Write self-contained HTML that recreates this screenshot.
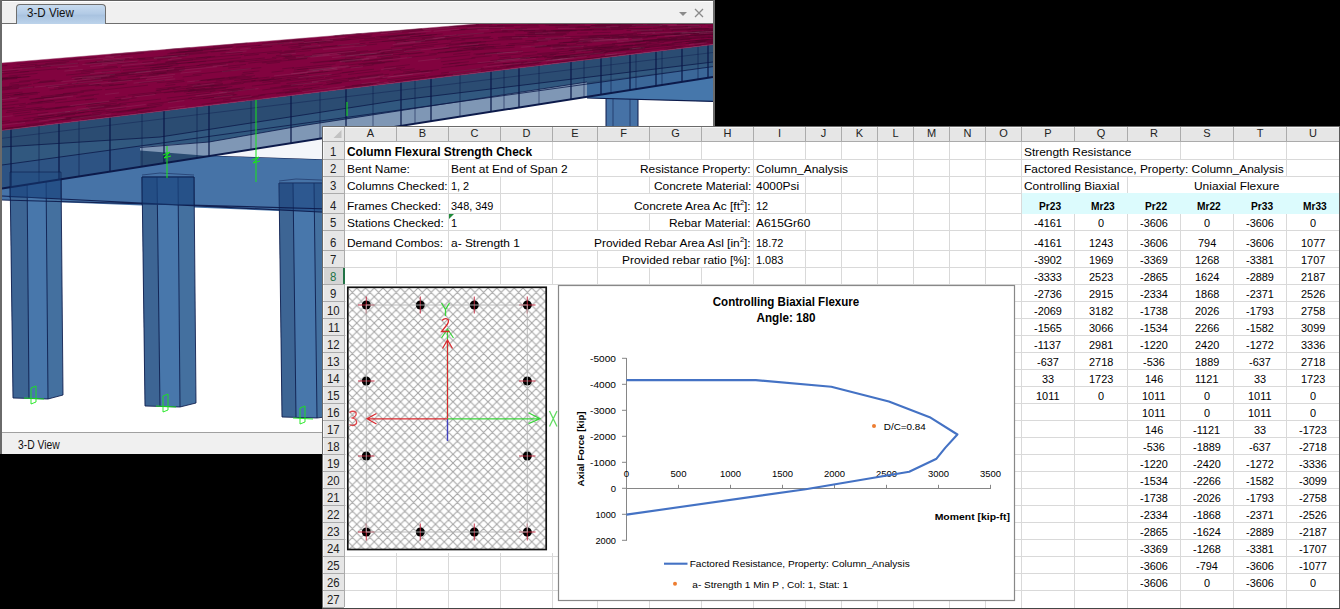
<!DOCTYPE html><html><head><meta charset="utf-8"><style>html,body{margin:0;padding:0;}body{width:1340px;height:609px;overflow:hidden;position:relative;background:#000;}</style></head><body><div style="position:absolute;left:0;top:0;width:715px;height:454px;background:#f0f0f0;"></div><div style="position:absolute;left:0px;top:0px;width:715px;height:1px;background:#5f5f5f;"></div><div style="position:absolute;left:0px;top:0px;width:2px;height:454px;background:#6a6a6a;"></div><div style="position:absolute;left:713px;top:0px;width:2px;height:454px;background:#6a6a6a;"></div><div style="position:absolute;left:2px;top:1px;width:711px;height:1px;background:#ffffff;"></div><div style="position:absolute;left:16px;top:4px;width:88px;height:19px;border:1px solid #6e6e6e;border-bottom:none;border-radius:4px 4px 0 0;background:linear-gradient(#c7dbef,#b3cbe6 45%,#a9c3e0 55%,#bcd3eb);"></div><div style="position:absolute;left:27.00px;top:6.84px;font:normal 12px/12px 'Liberation Sans', sans-serif;color:#111;white-space:pre;transform:scaleX(0.9650);transform-origin:0 0;">3-D View</div><div style="position:absolute;left:2px;top:23px;width:14px;height:1px;background:#6e6e6e;"></div><div style="position:absolute;left:106px;top:23px;width:607px;height:1px;background:#6e6e6e;"></div><svg style="position:absolute;left:676px;top:6px" width="34" height="14"><path d="M3 6 L11 6 L7 10 Z" fill="#8a8a8a"/><path d="M19 3 L27 11 M27 3 L19 11" stroke="#8a8a8a" stroke-width="1.3"/></svg><div style="position:absolute;left:2px;top:24px;width:711px;height:408px;background:#ffffff;"></div><svg style="position:absolute;left:2px;top:24px" width="711" height="408" viewBox="2 24 711 408"><defs><clipPath id="sc"><rect x="2" y="24" width="711" height="408"/></clipPath></defs><g clip-path="url(#sc)"><rect x="2" y="24" width="711" height="408" fill="#fff"/><polygon points="606,82 638,82 638,140 606,140" fill="#4672a6" stroke="#0c1a4a" stroke-width="1"/><path d="M613 82 L613 140 M630 82 L630 140" stroke="#0c1a4a" stroke-width="0.8" opacity="0.7"/><polygon points="2,150 209,155.4 322,159 330,160 330,213 2,200" fill="#4673a7"/><polygon points="10,172 61,172 63,395 48,399 13,398" fill="#44709f"/><polygon points="27,172 46,172 48,399 29,398" fill="#4877ab"/><polygon points="10,172 27,172 29,398 13,398" fill="#3d6594"/><path d="M10 172 L13 398 L48 399 L63 395 L61 172 M27 172 L29 398 M46 172 L48 399 M10 172 L61 172" stroke="#0c1a4a" stroke-width="1" fill="none" opacity="0.85"/><path d="M10 170 L30 168 L61 170" stroke="#0c1a4a" stroke-width="0.8" fill="none" opacity="0.6"/><polygon points="142,177 194,177 196,403 180,407 145,406" fill="#44709f"/><polygon points="157,177 178,177 180,407 160,406" fill="#4877ab"/><polygon points="142,177 157,177 160,406 145,406" fill="#3d6594"/><path d="M142 177 L145 406 L180 407 L196 403 L194 177 M157 177 L160 406 M178 177 L180 407 M142 177 L194 177" stroke="#0c1a4a" stroke-width="1" fill="none" opacity="0.85"/><path d="M142 175 L160 173 L194 175" stroke="#0c1a4a" stroke-width="0.8" fill="none" opacity="0.6"/><polygon points="279,183 345,183 348,414 317,418 282,417" fill="#44709f"/><polygon points="293,183 314,183 317,418 296,417" fill="#4877ab"/><polygon points="279,183 293,183 296,417 282,417" fill="#3d6594"/><path d="M279 183 L282 417 L317 418 L348 414 L345 183 M293 183 L296 417 M314 183 L317 418 M279 183 L345 183" stroke="#0c1a4a" stroke-width="1" fill="none" opacity="0.85"/><path d="M279 181 L296 179 L345 181" stroke="#0c1a4a" stroke-width="0.8" fill="none" opacity="0.6"/><polygon points="10,172 61,172 61,199 10,197" fill="#173f7a" opacity="0.55"/><polygon points="142,177 194,177 194,206 142,204" fill="#173f7a" opacity="0.55"/><polygon points="279,183 322,183 322,212 279,210" fill="#173f7a" opacity="0.55"/><path d="M2 196 L330 212.5 M2 200 L330 209" stroke="#0c1a4a" stroke-width="1.2" fill="none" opacity="0.9"/><path d="M209 155.4 L330 159.5" stroke="#0c1a4a" stroke-width="1.2" fill="none"/><polygon points="209,155.4 330,137 330,159.5" fill="#f4f6fa"/><polygon points="587,96.8 713,77 713,101.4 587,98" fill="#4677ab"/><path d="M587 98 L713 101.4" stroke="#0c1a4a" stroke-width="1.2" fill="none"/><polygon points="2.0,130.3 713.0,44.5 713.0,77.0 2.0,188.5" fill="#2b4c72" /><polygon points="2.0,147.0 160.0,137.0 400.0,100.0 713.0,62.0 713.0,66.6 587.0,82.0 300.0,126.0 209.0,142.0 140.0,146.8 2.0,165.0" fill="#31587f" /><polygon points="140.0,146.8 209.0,142.0 300.0,126.0 587.0,82.0 587.0,96.8 209.0,156.0 140.0,150.5" fill="#7f97b5" /><path d="M140 147.5 L209 142 L300 126 L587 82" stroke="#0c1a4a" stroke-width="1" fill="none" opacity="0.8"/><polygon points="587.0,84.1 713.0,66.6 713.0,77.0 587.0,96.8" fill="#3b6798" /><polygon points="2.0,165.0 140.0,146.0 140.0,166.9 2.0,188.5" fill="#2d5383" /><path d="M2 188.5 L713 77.0" stroke="#0c1a4a" stroke-width="2" fill="none"/><path d="M2 147 L160 137 L400 100 L713 62" stroke="#0c1a4a" stroke-width="1" fill="none" opacity="0.8"/><path d="M2 165.0 L140 146.0 L713 66.6" stroke="#0c1a4a" stroke-width="1" fill="none" opacity="0.8"/><path d="M2 138.3 L713 52.5" stroke="#0c1a4a" stroke-width="0.8" fill="none" opacity="0.5"/><path d="M11 129.2 L11 187.1" stroke="#0c1a4a" stroke-width="1.3" opacity="0.95"/><path d="M39 125.8 L39 182.7" stroke="#0c1a4a" stroke-width="0.9" opacity="0.6"/><path d="M59 123.4 L59 179.6" stroke="#0c1a4a" stroke-width="1.3" opacity="0.95"/><path d="M79 121.0 L79 176.4" stroke="#0c1a4a" stroke-width="0.9" opacity="0.6"/><path d="M110 117.3 L110 171.6" stroke="#0c1a4a" stroke-width="1.3" opacity="0.95"/><path d="M142 113.4 L142 166.5" stroke="#0c1a4a" stroke-width="0.9" opacity="0.6"/><path d="M164 110.8 L164 163.1" stroke="#0c1a4a" stroke-width="1.3" opacity="0.95"/><path d="M197 106.8 L197 157.9" stroke="#0c1a4a" stroke-width="0.9" opacity="0.6"/><path d="M209 105.3 L209 156.0" stroke="#0c1a4a" stroke-width="1.3" opacity="0.95"/><path d="M251 100.3 L251 149.5" stroke="#0c1a4a" stroke-width="0.9" opacity="0.6"/><path d="M291 95.4 L291 143.2" stroke="#0c1a4a" stroke-width="1.3" opacity="0.95"/><path d="M320 91.9 L320 138.6" stroke="#0c1a4a" stroke-width="0.9" opacity="0.6"/><path d="M346 88.8 L346 134.6" stroke="#0c1a4a" stroke-width="1.3" opacity="0.95"/><path d="M373 85.5 L373 130.3" stroke="#0c1a4a" stroke-width="0.9" opacity="0.6"/><path d="M401 82.2 L401 125.9" stroke="#0c1a4a" stroke-width="1.3" opacity="0.95"/><path d="M415 80.5 L415 123.7" stroke="#0c1a4a" stroke-width="0.9" opacity="0.6"/><path d="M431 78.5 L431 121.2" stroke="#0c1a4a" stroke-width="1.3" opacity="0.95"/><path d="M460 75.0 L460 116.7" stroke="#0c1a4a" stroke-width="0.9" opacity="0.6"/><path d="M491 71.3 L491 111.8" stroke="#0c1a4a" stroke-width="1.3" opacity="0.95"/><path d="M504 69.7 L504 109.8" stroke="#0c1a4a" stroke-width="0.9" opacity="0.6"/><path d="M519 67.9 L519 107.4" stroke="#0c1a4a" stroke-width="1.3" opacity="0.95"/><path d="M539 65.5 L539 104.3" stroke="#0c1a4a" stroke-width="0.9" opacity="0.6"/><path d="M571 61.6 L571 99.3" stroke="#0c1a4a" stroke-width="1.3" opacity="0.95"/><path d="M584 60.1 L584 97.2" stroke="#0c1a4a" stroke-width="0.9" opacity="0.6"/><path d="M601 58.0 L601 94.6" stroke="#0c1a4a" stroke-width="1.3" opacity="0.95"/><path d="M611 56.8 L611 93.0" stroke="#0c1a4a" stroke-width="0.9" opacity="0.6"/><path d="M630 54.5 L630 90.0" stroke="#0c1a4a" stroke-width="1.3" opacity="0.95"/><path d="M636 53.8 L636 89.1" stroke="#0c1a4a" stroke-width="0.9" opacity="0.6"/><path d="M656 51.4 L656 85.9" stroke="#0c1a4a" stroke-width="1.3" opacity="0.95"/><path d="M662 50.7 L662 85.0" stroke="#0c1a4a" stroke-width="0.9" opacity="0.6"/><path d="M682 48.2 L682 81.9" stroke="#0c1a4a" stroke-width="1.3" opacity="0.95"/><path d="M698 46.3 L698 79.4" stroke="#0c1a4a" stroke-width="0.9" opacity="0.6"/><path d="M708 45.1 L708 77.8" stroke="#0c1a4a" stroke-width="1.3" opacity="0.95"/><polygon points="2,63 476,24 713,24 713,44.5 2,130.3" fill="#82033f"/><path d="M82.1 77.2L114.9 74.1M241.7 74.4L253.7 73.2M292.2 41.2L304.6 40.2M584.4 39.3L598.7 38.6M674.1 39.8L704.3 37.5M4.6 128.4L44.7 123.6M402.1 39.5L434.5 36.6M16.7 98.3L28.7 97.1M287.7 77.8L308.7 75.5M192.7 74.5L230.5 70.7M183.9 92.0L228.2 87.1M532.6 41.7L547.9 40.9M466.5 26.7L503.2 25.8M203.1 98.6L237.4 94.6M463.5 48.5L475.6 47.3M707.9 37.7L713.0 37.3M466.8 43.8L477.6 42.9M57.0 69.4L69.1 68.4M611.9 50.8L631.7 48.8M627.0 35.1L670.5 33.2M142.3 62.4L160.5 60.7M165.2 85.5L175.4 84.5M390.8 50.3L434.1 46.2M428.9 54.1L462.5 50.7M549.5 60.2L590.1 55.8M266.4 63.7L280.1 62.3M20.0 65.7L37.3 64.2M9.1 85.2L19.1 84.3M80.4 96.0L99.2 94.0M329.5 61.6L342.5 60.3M166.7 70.3L205.7 66.6M676.6 24.6L705.1 24.5M487.3 65.2L506.4 63.2M543.5 30.8L572.2 30.3M568.9 56.3L607.6 52.3M354.6 46.2L377.1 44.1M177.6 50.2L196.7 48.7M240.9 98.9L258.6 96.7M326.2 82.4L359.1 78.7M460.8 29.5L502.7 27.9M325.2 77.6L341.4 75.8M565.0 36.8L609.0 35.0M673.5 34.1L708.8 32.4M584.1 29.3L628.4 28.5M377.7 50.6L392.2 49.2M617.7 37.9L656.6 35.8M187.7 62.9L206.1 61.2M651.9 35.7L679.4 34.3M2.0 98.2L9.3 97.5M563.8 24.2L579.8 24.1M383.5 69.8L404.9 67.4M552.7 46.1L566.4 45.2M175.7 63.8L212.8 60.4M534.7 47.6L576.6 44.8M345.6 67.9L373.6 64.9M621.3 46.1L664.2 42.4M670.8 38.3L710.2 35.7M298.5 45.4L311.0 44.3M502.1 31.1L535.2 30.5M290.6 48.3L318.7 45.8M206.7 57.8L241.9 54.6M297.3 69.7L307.9 68.6M692.0 42.2L705.6 40.9M548.8 25.6L568.3 25.5M647.2 36.0L685.8 34.0M652.9 28.1L682.9 27.6M12.7 68.1L46.8 65.2M66.0 75.1L94.5 72.5M90.0 62.8L101.7 61.7M196.6 65.7L233.2 62.2M102.2 86.5L124.3 84.2M2.0 79.9L17.1 78.5M322.7 47.0L365.5 43.2M588.4 36.2L623.1 34.7M228.2 68.1L240.1 66.9M520.5 27.1L539.4 26.9M595.1 26.9L635.5 26.5M150.0 68.2L170.2 66.3M234.9 61.9L245.0 61.0M343.6 60.6L360.6 58.9M166.3 49.8L179.4 48.7M2.0 65.8L7.4 65.4M363.2 64.6L399.5 60.8M623.2 46.4L646.8 44.4M81.1 119.8L116.4 115.5M590.6 25.5L631.8 25.3M573.5 51.4L588.4 50.1M633.4 41.6L667.3 39.2M2.0 78.5L7.8 77.9M591.0 27.7L620.6 27.3M475.7 54.8L502.9 52.7M526.0 58.4L553.6 55.7M19.1 105.5L54.9 101.7M167.3 53.9L202.8 50.9M695.0 40.8L713.0 39.2M478.0 47.4L514.8 45.3M27.6 103.5L42.7 101.9M196.2 91.5L226.1 88.2M169.7 52.9L203.2 50.1M186.1 88.6L214.2 85.5M58.0 88.8L99.3 84.6M665.6 49.6L676.2 48.4M689.3 43.2L713.0 40.8M672.6 29.3L689.9 28.9M359.4 41.2L402.7 37.4M348.0 78.8L389.0 74.2M637.0 30.9L664.0 30.1M335.3 35.8L361.1 33.6M527.8 24.1L567.2 24.1M499.8 66.8L541.3 62.2M261.9 62.9L306.9 58.6M288.0 59.8L307.7 57.9M167.4 64.6L195.3 62.0M648.7 41.8L691.6 38.6M6.8 110.9L42.4 107.0M448.9 64.0L468.9 61.7M64.6 118.0L91.1 114.9M519.1 37.1L563.3 35.5M193.5 86.6L223.0 83.4M73.7 86.1L90.5 84.5M37.7 82.6L56.1 80.9M629.2 41.4L665.5 38.9M359.5 55.8L382.6 53.5M176.2 52.4L220.1 48.7M437.8 52.6L478.0 48.6M154.6 67.1L178.6 64.9M600.6 56.5L641.1 51.8M497.2 25.5L538.5 25.3M605.6 51.6L649.6 47.2M84.7 63.2L113.0 60.7M506.2 66.8L538.9 63.1M379.8 56.1L391.1 54.9M653.5 30.4L686.1 29.5M157.1 58.1L189.4 55.3M22.3 68.8L50.6 66.3M136.1 76.1L167.2 73.1M312.3 54.2L355.9 50.1M323.2 85.2L341.4 83.0M493.6 69.1L514.3 66.7M471.1 49.0L495.8 47.3M657.4 42.2L675.3 40.7M282.5 59.0L316.4 55.8M519.2 59.0L546.8 56.3M201.6 104.4L240.3 99.8M109.2 85.5L127.0 83.7M674.9 40.7L690.1 39.5M693.8 28.9L708.7 28.5M711.2 39.2L713.0 39.0M665.4 28.9L701.5 28.1M251.3 80.8L274.4 78.4M2.0 74.4L-8.1 75.3M61.9 120.2L105.7 115.0M580.4 37.0L619.2 35.3M240.6 54.6L282.0 50.9M573.2 39.4L610.0 37.5M16.5 64.1L58.7 60.6M637.6 46.1L659.5 44.1M428.4 76.7L447.6 74.4M174.8 68.0L184.9 67.0M441.0 73.1L484.1 68.1M156.5 74.0L181.6 71.6M105.9 113.2L144.0 108.7M544.2 57.6L575.5 54.5M238.9 62.1L276.2 58.6M529.4 32.4L548.0 32.0M704.0 43.1L713.0 42.1M340.4 40.4L375.2 37.4M279.7 53.4L311.4 50.5M599.3 49.6L632.6 46.6M188.3 98.2L218.1 94.8M118.0 99.8L136.7 97.8M626.9 28.7L657.2 28.2M707.4 32.4L713.0 32.1M455.4 66.0L500.1 61.3M188.2 50.1L202.4 48.9M403.3 80.5L445.9 75.4M303.7 86.4L322.8 84.2M48.6 121.1L79.5 117.5M244.0 55.7L258.9 54.4M415.4 42.1L448.2 39.1M213.1 46.3L246.9 43.5M121.1 72.8L159.0 69.2M45.3 63.6L69.2 61.6M37.7 102.2L53.5 100.5M390.9 47.4L413.4 45.2M710.5 42.0L713.0 41.7M90.8 85.1L101.3 84.1M646.0 42.3L659.1 41.3M344.8 54.9L359.9 53.4M657.6 38.2L671.5 37.3M688.4 42.9L705.3 41.2M694.8 45.4L713.0 43.3M258.2 95.1L299.9 90.2M89.1 108.6L126.6 104.3M598.8 37.9L637.9 36.0M267.0 53.7L295.1 51.1M387.8 33.4L424.3 30.4M57.5 113.1L88.5 109.5M197.5 84.4L222.2 81.8M459.5 46.5L485.2 44.4M429.8 29.0L457.0 26.7M549.5 54.7L575.6 52.3M49.6 90.1L64.1 88.6M298.4 43.7L326.2 41.4M31.1 102.7L66.8 98.9M10.3 96.6L38.0 93.8M680.8 36.0L713.0 34.1M661.4 45.1L673.7 43.9M88.0 104.3L129.3 99.7M165.3 62.3L193.0 59.8M635.3 44.3L651.2 43.0M364.3 39.3L396.6 36.5M707.8 26.2L713.0 26.1M166.7 98.1L211.4 93.0M538.1 39.0L563.6 37.9M5.9 112.6L44.6 108.3M701.2 38.0L713.0 37.1M2.0 84.0L-17.5 85.9M138.9 59.9L171.7 57.1M233.7 44.1L247.5 43.0M403.6 41.6L434.2 38.8M80.9 72.2L94.3 70.9M551.1 58.9L575.2 56.3M449.2 26.8L478.9 24.6M299.7 74.6L342.5 70.0M641.3 31.2L652.8 30.9M146.6 76.2L158.6 75.0M379.3 32.6L422.3 29.1M421.8 38.7L449.5 36.2M99.8 106.6L120.6 104.3M630.8 25.5L668.2 25.3M597.4 24.2L633.5 24.2M306.2 79.2L324.1 77.2M2.0 78.6L20.6 76.9M598.1 47.9L633.0 45.0M294.0 70.0L331.6 66.1M447.0 39.7L490.8 36.6M2.0 122.2L0.4 122.4M671.9 42.9L708.0 39.7M508.4 43.8L538.4 42.2M75.4 79.2L86.4 78.1M441.0 61.8L475.4 58.1M671.6 47.3L685.4 45.8M583.0 46.9L615.1 44.5M42.7 66.2L79.2 63.1M284.9 57.7L295.6 56.7M501.8 37.0L524.7 36.2M344.3 87.0L384.1 82.3M276.8 42.1L302.1 40.0M493.6 40.3L522.4 39.1M37.5 116.9L76.2 112.5M334.7 35.9L361.9 33.6M671.3 30.7L691.2 30.0M340.2 73.2L354.1 71.6M555.4 27.2L589.8 26.9M234.2 80.6L258.3 78.0M34.0 119.2L75.1 114.4M165.6 62.1L207.1 58.4M626.8 35.7L645.0 34.9M530.6 46.6L566.9 44.3M521.3 52.9L537.2 51.6M400.3 70.4L414.7 68.8M146.8 105.7L163.5 103.8M596.8 48.3L612.3 47.0M212.6 60.3L240.9 57.7M110.6 74.8L154.8 70.6M685.1 26.4L698.6 26.3M560.6 62.3L596.3 58.0M444.0 36.5L457.8 35.3M2.0 89.1L19.2 87.5M341.9 72.7L374.0 69.2M418.6 36.0L442.7 33.9M289.5 90.4L319.6 86.9M490.2 60.7L530.0 57.0M307.2 73.5L328.2 71.3M281.7 45.5L319.1 42.3M155.8 89.0L180.6 86.4M456.3 34.7L493.5 32.6M694.1 35.2L705.5 34.5M550.9 30.4L593.8 29.6M396.9 35.8L425.8 33.3M445.0 52.3L484.0 48.7M674.3 34.3L691.7 33.5M12.1 86.0L31.7 84.1M281.0 40.8L305.7 38.8M167.0 70.9L184.9 69.2M127.5 77.2L142.1 75.7M441.3 67.7L467.7 64.7M686.2 29.4L708.5 28.8M576.4 54.3L602.8 51.7M63.0 93.6L102.2 89.5M168.7 101.1L191.9 98.4M108.1 81.2L118.2 80.2M152.0 68.0L172.6 66.0M443.5 48.2L476.6 45.0M155.8 90.6L169.3 89.2M546.8 33.5L568.9 32.9M593.2 51.5L610.1 49.9M166.5 83.3L184.7 81.4M13.4 95.0L39.8 92.4M594.7 24.2L621.1 24.2M594.5 47.1L617.7 45.3M26.0 124.8L58.3 120.9M699.4 31.3L713.0 30.8M2.0 123.4L30.3 120.1M610.2 35.1L633.1 34.2M542.5 45.6L559.9 44.5M381.6 54.0L420.6 50.2M270.0 88.1L297.6 85.0M694.4 35.5L713.0 34.4M205.6 65.9L226.1 64.0M552.7 49.3L564.1 48.4M375.2 79.2L387.0 77.8M111.1 54.4L153.4 50.9M556.2 49.9L598.1 46.6M435.7 58.5L470.1 54.9M127.9 95.2L161.2 91.6M45.3 109.5L61.7 107.7M649.2 45.8L682.1 42.8M554.4 56.6L584.1 53.7M283.4 56.9L304.5 54.9M663.9 41.0L675.8 40.0M58.3 60.9L96.7 57.7M301.7 89.6L312.2 88.4M666.7 39.4L711.1 36.3M45.8 86.5L78.4 83.3M2.0 73.2L-8.3 74.1M2.0 71.7L18.4 70.3M109.2 100.5L121.0 99.2M605.6 47.9L641.2 44.8M686.5 30.0L713.0 29.2M453.5 26.6L492.1 24.7M14.4 94.5L37.3 92.2M472.9 45.8L488.0 44.9M449.2 44.4L481.2 41.6M554.2 39.3L597.3 37.3M584.8 49.3L606.4 47.5M587.6 58.8L618.7 55.2M629.9 37.1L653.1 35.9M635.8 41.9L674.1 39.2M165.4 49.7L190.2 47.6M614.3 50.3L644.4 47.4M33.2 83.4L62.6 80.6M527.4 32.6L570.0 31.6M473.5 54.1L499.8 52.1M528.1 34.9L565.8 33.7M569.3 27.3L606.3 26.9M636.4 41.2L677.4 38.4M407.9 54.3L424.5 52.6M490.9 32.5L513.6 32.1M354.3 55.7L369.5 54.2M247.9 100.5L261.6 98.8M86.0 106.5L116.9 103.1M331.3 83.2L361.2 79.8M286.5 83.5L329.6 78.7M685.9 43.5L704.7 41.6M104.3 67.3L117.2 66.2M17.7 122.4L48.6 118.8M682.8 26.9L701.8 26.6M680.6 39.6L713.0 37.1M2.0 77.9L17.7 76.5M642.1 50.2L681.4 45.9M192.0 88.0L222.7 84.7M210.7 52.1L229.7 50.4M95.3 86.0L113.6 84.1M2.0 108.6L14.5 107.3M630.3 50.4L645.2 48.9M660.1 26.6L699.6 26.1M222.5 71.5L261.3 67.6M76.1 97.4L93.8 95.5M276.0 55.6L291.4 54.2M218.5 94.7L234.4 92.9M635.0 25.7L668.4 25.5M182.7 77.0L201.7 75.0M185.0 53.8L226.4 50.3M188.1 91.4L232.3 86.5M223.3 92.2L238.2 90.6M361.3 78.0L377.8 76.1M132.2 109.1L162.2 105.6M542.4 31.4L577.3 30.6M35.0 65.5L66.3 62.9M123.1 70.2L154.5 67.3M403.1 72.1L420.2 70.2M273.2 82.4L308.5 78.5M2.0 96.2L23.3 94.0M91.5 79.1L114.5 76.9M356.2 34.1L381.8 32.0M498.4 38.9L521.8 38.0M618.5 26.0L661.9 25.6M364.2 60.6L393.0 57.7M136.2 112.1L152.6 110.1M577.1 33.2L588.2 32.9M114.9 97.7L125.6 96.6M358.5 64.6L393.1 61.0M502.8 63.9L514.4 62.7M342.1 61.8L361.8 59.8M395.6 38.3L431.8 35.1M666.6 45.6L690.2 43.2M221.5 90.7L240.0 88.6M599.8 51.8L611.7 50.7M664.2 49.3L682.9 47.1M240.8 80.1L269.4 77.1M345.0 58.2L355.8 57.2M547.0 63.3L589.8 58.3M627.1 49.0L668.1 45.0M167.5 88.5L201.2 84.9M656.8 38.8L688.6 36.7M292.2 68.3L335.5 63.9M451.1 41.3L465.3 40.0M351.7 85.7L371.1 83.4M80.3 90.9L94.6 89.4M272.1 57.5L292.2 55.6M375.9 36.9L415.3 33.5M453.2 54.4L470.3 52.6M377.2 56.5L408.6 53.4M150.0 70.0L167.8 68.3M405.2 49.7L415.6 48.7M147.2 104.2L176.7 100.8M703.7 30.2L713.0 29.8M19.6 72.1L60.1 68.5M258.2 45.5L283.6 43.3M137.3 58.7L180.9 54.9M220.4 54.1L242.7 52.2M601.5 44.9L640.3 42.0M522.3 56.1L558.8 52.9M496.5 60.6L538.5 56.6M2.0 121.6L10.0 120.7M685.3 35.9L713.0 34.2M618.5 49.0L649.7 46.1M310.2 62.7L345.5 59.2M382.6 52.3L406.1 50.0M601.2 50.8L628.7 48.1M195.9 58.1L211.0 56.7M35.3 98.7L77.5 94.2M592.7 53.5L636.3 49.1M646.6 36.2L656.9 35.6M339.5 65.9L381.7 61.5M711.8 35.1L713.0 35.0M259.4 81.2L281.9 78.7M674.3 32.8L708.0 31.4M248.2 48.5L272.2 46.4M623.7 42.0L667.5 38.9M434.1 49.8L478.9 45.5M576.2 43.6L592.2 42.6M583.7 59.3L611.7 56.0M282.7 90.1L298.2 88.3M345.1 62.5L361.7 60.8M2.0 105.8L25.8 103.3M483.2 38.8L493.3 38.4M405.5 73.4L438.9 69.6M381.1 58.1L400.4 56.1M710.9 35.0L713.0 34.9M86.5 63.8L123.1 60.7M569.3 47.2L581.5 46.3M209.9 91.6L244.9 87.7M229.2 78.4L255.0 75.7M430.8 50.1L449.5 48.2M675.6 36.4L694.1 35.3M559.0 42.9L577.5 41.8M108.6 76.9L152.6 72.7M55.4 95.3L84.0 92.3M152.0 72.3L168.7 70.7M2.0 79.0L29.2 76.5M494.5 31.3L507.7 31.1M88.3 107.4L110.7 104.9M138.9 83.1L164.7 80.4M163.7 92.9L205.2 88.3M153.0 73.2L184.3 70.2M61.2 114.9L89.2 111.6M543.4 35.1L566.9 34.3M200.9 80.5L224.6 78.0M602.3 30.0L623.5 29.5M387.6 37.0L410.2 35.0M19.0 81.4L39.9 79.4M502.5 29.8L522.4 29.5M175.5 56.7L186.5 55.8M231.1 83.0L255.6 80.3M154.6 93.4L194.2 89.1M499.5 58.0L510.9 57.0M117.2 63.7L137.8 61.9M201.0 49.0L233.4 46.3M393.6 74.6L428.7 70.6M478.5 45.2L500.7 44.1M546.9 57.8L566.9 55.8M421.3 72.2L432.9 70.9M34.0 109.9L68.3 106.1M585.8 50.8L605.6 49.0M285.0 93.1L327.6 88.1M586.7 50.4L618.7 47.5M488.8 26.6L513.8 26.4M64.8 118.1L101.5 113.7M568.7 50.6L587.8 49.0M443.7 75.5L472.7 72.0M235.9 47.2L260.3 45.2M71.5 77.4L106.2 74.1M149.6 65.5L177.6 63.0M535.1 47.0L551.0 46.0M185.0 54.8L207.6 52.9M178.7 52.1L195.6 50.7M54.0 88.0L75.3 85.9M94.9 78.5L107.4 77.3M527.6 66.5L540.5 65.0M388.8 82.6L402.6 80.9M111.0 81.4L140.0 78.6M156.8 90.3L175.4 88.3M545.4 25.1L584.8 25.0M553.0 30.7L592.0 29.9M107.1 75.0L146.0 71.3M2.0 79.1L30.5 76.5M341.2 61.9L356.7 60.4M29.6 99.2L63.7 95.7M690.6 34.3L703.7 33.6M111.8 81.7L147.1 78.2M605.5 52.1L643.1 48.3M461.6 39.3L489.6 37.4M92.2 113.3L112.5 110.9M228.6 77.4L245.5 75.6M694.0 43.7L713.0 41.7M14.6 116.2L48.3 112.3M394.3 46.2L437.7 42.2M110.3 55.8L144.1 53.0M460.7 29.5L483.8 28.1M363.8 55.5L393.5 52.5M104.1 61.8L145.3 58.3M610.6 27.7L629.5 27.4M156.9 82.8L184.0 80.0M395.5 42.4L409.5 41.2M29.6 99.7L53.9 97.2M611.6 38.4L640.8 36.8M55.2 108.0L99.8 103.0M586.8 27.6L610.6 27.4M388.3 81.6L425.5 77.2M12.8 114.0L31.1 112.0M411.6 30.1L429.0 28.6M286.5 79.5L327.6 75.0M523.9 31.3L545.8 30.8M583.4 48.6L597.7 47.4M674.4 42.5L709.6 39.4M657.5 27.1L691.2 26.6M301.9 49.1L341.3 45.6M381.8 41.5L402.0 39.7M77.2 81.3L117.8 77.4M570.5 50.0L613.7 46.4M261.7 80.6L288.3 77.7M262.3 90.0L302.9 85.4M2.4 102.6L18.4 100.9M398.7 54.7L422.3 52.3M400.3 30.5L422.0 28.7M702.9 34.0L713.0 33.4M172.6 89.7L192.2 87.6M2.0 129.8L25.0 127.0M545.3 59.5L577.5 56.2M476.2 70.1L496.9 67.7M348.1 74.5L380.4 70.9M271.6 72.2L283.7 70.9M704.4 31.0L713.0 30.6M144.5 66.3L166.7 64.3M617.1 24.2L643.0 24.2M194.7 81.2L210.6 79.6M199.2 64.8L234.6 61.5M223.0 100.0L265.2 95.0M330.0 39.7L371.5 36.2M2.0 80.3L2.9 80.2M132.2 96.2L156.2 93.5M612.0 43.7L644.7 41.3M685.6 41.5L713.0 39.0M620.5 49.6L642.4 47.5M368.9 42.8L409.6 39.2M127.7 110.3L149.1 107.8M271.2 77.8L304.9 74.2M277.8 43.6L289.4 42.6M337.3 53.6L368.2 50.7M2.0 94.2L22.5 92.1M11.6 128.3L43.1 124.5M39.4 81.6L54.9 80.1M36.8 110.7L75.3 106.4M407.2 57.5L436.7 54.5M215.8 81.0L251.8 77.2M537.1 53.7L574.3 50.5M696.2 41.4L713.0 39.8M669.1 37.5L683.7 36.6M456.9 49.3L494.0 46.3M139.5 113.1L176.0 108.7M69.7 59.2L81.8 58.2M105.1 89.7L148.0 85.2M2.0 73.9L28.8 71.5M340.7 88.5L373.0 84.6M514.9 28.8L527.2 28.6M612.0 37.1L624.1 36.5M652.9 35.4L696.0 33.2M157.2 64.0L176.4 62.2M121.0 67.7L157.6 64.4M708.8 30.3L713.0 30.1M611.3 29.1L651.7 28.4M581.4 51.3L601.3 49.5M632.0 38.7L647.6 37.8M626.5 30.5L649.1 29.9M647.3 24.3L662.6 24.3M95.4 61.5L129.3 58.6M2.0 128.9L12.7 127.7M2.0 109.4L25.8 106.8M622.8 33.9L637.0 33.4M288.4 47.1L304.6 45.7M518.5 30.5L546.0 30.0M338.7 54.5L380.9 50.5M688.9 29.0L713.0 28.4M101.7 72.1L120.9 70.3M348.0 36.9L372.3 34.8M2.0 87.4L12.0 86.4M503.3 64.0L527.3 61.5M692.9 33.6L713.0 32.6M76.3 83.3L121.2 78.9M658.2 40.5L677.1 39.1M148.9 74.2L165.8 72.5M552.5 57.6L594.3 53.4M211.0 87.0L243.6 83.4M691.9 31.3L701.9 30.9M437.7 39.0L473.7 35.7M262.4 82.4L290.8 79.3M209.3 86.1L241.4 82.7M506.1 45.5L534.4 43.9M75.6 71.2L118.0 67.4M361.9 61.4L400.4 57.5M580.7 30.3L606.8 29.7M634.3 48.8L674.6 44.8M588.3 37.6L626.9 35.8M156.9 59.7L170.4 58.5M357.4 76.9L383.2 73.9M710.7 32.2L713.0 32.1M563.1 42.5L599.7 40.3M242.6 82.7L270.8 79.6M222.7 66.7L246.0 64.4M393.9 41.2L405.9 40.2M174.0 92.4L195.4 90.1M284.4 51.2L322.1 47.8M2.6 88.0L28.1 85.5M189.4 90.4L213.6 87.7M231.8 91.5L255.3 88.8M112.4 112.2L156.4 107.1M464.5 43.4L486.1 41.8M251.9 86.1L280.3 82.9M532.5 62.1L543.4 60.9M313.4 63.0L352.8 59.0M631.5 38.4L656.9 36.9M582.7 42.5L616.2 40.5M2.0 90.0L34.0 86.9M542.0 55.6L556.2 54.3M577.4 26.8L590.9 26.7M389.4 70.6L401.3 69.3M328.7 75.1L340.6 73.7M78.1 112.9L99.8 110.4M704.6 24.1L713.0 24.1M159.5 69.2L199.5 65.4M282.2 68.8L294.0 67.6M565.9 57.2L605.8 53.0M8.7 76.0L37.5 73.4M333.3 61.1L363.7 58.0M118.8 103.7L161.0 99.0M203.5 49.5L232.2 47.1M210.4 79.4L230.0 77.3M497.9 37.5L536.0 36.2M292.3 42.4L324.6 39.6M23.4 118.6L54.3 115.0M386.9 79.8L424.9 75.3M471.5 57.6L491.8 55.8M78.3 110.7L120.4 105.9M85.0 100.1L97.0 98.8M591.2 25.5L611.5 25.4M206.8 80.7L236.4 77.6M211.0 99.9L250.5 95.2M698.2 41.8L713.0 40.4M446.1 45.6L463.9 43.8M315.1 42.4L350.6 39.4M55.0 103.0L94.0 98.7M710.1 43.2L713.0 42.9M228.5 61.4L264.8 58.0M371.8 64.3L384.8 62.9M633.5 32.2L673.1 30.9M671.7 32.8L704.7 31.4M304.1 56.7L322.7 54.9M555.3 31.1L575.7 30.6M41.1 96.6L70.4 93.5M312.8 70.4L324.0 69.2M450.6 31.0L465.2 29.7M248.4 63.1L281.6 60.0M326.8 84.2L342.0 82.4M57.0 115.8L84.3 112.6M317.6 43.5L333.3 42.2M242.6 72.6L259.5 70.9M557.7 43.2L587.7 41.4M527.3 33.8L542.7 33.4M262.2 43.4L290.3 41.0M32.7 119.4L62.9 115.8M552.5 47.7L587.4 45.2M415.2 41.6L459.6 37.6M484.0 53.8L522.5 50.9M313.1 82.3L355.3 77.5M276.1 93.8L300.3 91.0M515.2 34.9L548.9 33.9M74.3 79.3L91.2 77.7M695.2 31.5L713.0 30.8M442.8 64.6L459.8 62.7M554.5 57.5L567.7 56.2M90.5 78.0L134.3 73.8M293.4 72.1L332.3 68.1M192.1 99.6L235.8 94.6M56.1 120.2L100.0 115.0M592.9 32.8L611.0 32.3M497.8 55.8L521.5 53.9M412.0 46.8L451.3 43.0M333.4 36.0L343.9 35.1M281.1 86.0L312.2 82.5M187.1 85.1L200.1 83.7M171.7 60.2L215.2 56.3M341.3 56.5L384.7 52.3M110.8 116.5L149.8 111.8M571.4 41.1L590.2 40.1M380.6 37.2L420.8 33.7M660.0 34.1L701.2 32.3M461.2 43.2L493.4 41.0M472.7 50.0L514.4 47.2M384.2 67.5L409.8 64.7M511.5 63.9L547.8 60.0M406.5 37.2L436.7 34.5M525.3 40.9L557.8 39.4M186.3 93.7L215.4 90.5M452.1 74.9L490.2 70.3M685.5 33.1L713.0 31.8M228.0 90.9L242.9 89.3M90.5 111.8L126.3 107.6M9.7 83.3L30.2 81.3M684.9 47.1L701.4 45.2M116.6 112.9L137.9 110.4M163.3 56.4L187.1 54.3M592.0 39.8L624.3 38.1" stroke="#4a0427" stroke-width="1" opacity="0.38" fill="none"/><path d="M57.5 67.8L78.3 66.0M396.8 43.2L425.2 40.6M309.0 69.9L348.4 65.8M154.0 58.4L177.7 56.4M303.7 42.7L333.0 40.2M240.2 49.3L251.1 48.4M61.3 81.8L101.0 78.0M2.0 99.6L18.6 97.8M135.7 72.5L174.1 68.8M302.3 91.6L345.1 86.5M121.8 65.5L153.7 62.6M82.3 64.6L124.0 60.9M452.7 74.5L481.1 71.1M281.3 54.7L295.9 53.3M310.4 57.2L340.8 54.3M366.2 57.1L393.0 54.5M467.4 28.3L504.9 27.3M688.9 44.7L706.6 42.8M332.0 57.6L376.7 53.2M350.6 68.0L362.9 66.7M667.2 25.9L699.4 25.6M606.2 26.8L618.5 26.7M222.0 71.6L251.3 68.7M291.1 85.2L318.4 82.1M346.5 55.9L380.5 52.6M301.2 47.2L320.5 45.5M376.5 83.7L395.0 81.4M590.4 41.8L628.5 39.5M225.6 52.9L246.6 51.0M590.2 27.6L610.2 27.3M680.4 33.1L713.0 31.7M90.1 66.4L107.4 64.9M133.5 83.1L175.2 78.9M2.0 102.5L-6.2 103.4M535.0 33.3L555.4 32.8M262.2 45.0L303.7 41.5M321.8 39.4L344.8 37.5M323.1 49.4L366.6 45.5M380.6 33.6L402.0 31.8M578.6 41.4L618.0 39.2M180.5 73.1L201.3 71.0M121.3 98.8L131.5 97.7M579.5 39.5L603.8 38.3M153.6 58.1L188.9 55.0M71.2 118.8L111.2 114.0M575.5 51.2L592.3 49.7M76.7 109.4L104.3 106.3M105.3 56.8L120.9 55.5M382.5 77.7L412.8 74.2M291.1 73.8L319.1 70.9M322.9 70.9L337.6 69.3M214.1 97.6L232.5 95.5M484.8 54.3L518.1 51.8M593.9 40.4L628.3 38.4M432.6 38.3L445.3 37.2M2.0 72.7L3.7 72.6M408.7 32.9L431.4 31.0M632.2 48.8L644.5 47.6M2.0 70.5L35.2 67.7M120.1 53.4L156.8 50.3M337.5 45.4L359.6 43.5M212.7 66.3L228.1 64.8M139.8 77.8L175.1 74.3M274.1 75.9L307.8 72.4M536.7 40.4L551.0 39.7M361.6 83.7L379.3 81.6M604.9 55.2L616.9 53.8M552.5 60.1L567.5 58.5M2.0 105.6L-8.5 106.7M558.2 59.4L574.1 57.7M550.5 48.4L583.9 46.0M521.2 47.2L546.6 45.5M340.1 61.9L369.0 58.9M423.0 29.8L456.9 27.0M688.0 26.9L701.1 26.7M497.0 53.3L523.1 51.3M512.0 37.9L527.8 37.3M187.2 81.9L199.4 80.6M629.4 49.0L640.8 47.8M569.6 56.2L603.6 52.7M2.0 98.0L-3.5 98.5M616.9 41.9L642.9 40.1M88.7 84.5L132.5 80.2M497.2 60.6L529.9 57.5M77.6 60.4L114.0 57.3M659.3 25.0L677.0 24.9M381.2 69.4L396.2 67.8M641.1 33.3L655.0 32.7M706.3 31.8L713.0 31.5M219.1 92.9L258.5 88.5M167.8 102.5L184.3 100.6M500.9 29.6L539.5 29.0M71.8 83.5L102.5 80.5M360.5 78.5L384.4 75.7M699.0 33.7L713.0 32.9M482.6 67.2L521.3 63.0M418.1 61.1L440.5 58.7M96.7 61.6L125.0 59.1M168.1 59.7L181.6 58.5M631.7 25.7L662.1 25.5M605.1 55.2L626.1 52.8M195.6 95.9L226.7 92.4M134.5 96.8L155.3 94.5M18.6 88.5L32.9 87.1M65.0 112.0L90.5 109.1M682.1 33.1L699.4 32.3M545.8 61.0L586.7 56.5M105.0 94.4L119.0 92.9M558.0 28.4L575.4 28.1M231.1 98.9L251.6 96.5M388.5 38.6L410.2 36.7M312.7 70.6L349.5 66.7M448.9 72.3L480.8 68.6M444.1 36.0L483.7 32.9M379.5 51.4L402.4 49.2M494.2 62.4L535.9 58.3M295.9 57.8L329.3 54.6M312.1 55.4L356.1 51.2M192.4 86.2L214.4 83.8M388.3 77.0L430.4 72.1M44.0 99.2L73.2 96.1M2.0 70.6L-0.6 70.9M82.1 78.4L109.7 75.8M2.0 116.9L12.7 115.7M214.6 50.0L232.2 48.5M392.7 44.6L421.2 41.9M179.2 70.4L217.1 66.7M102.8 59.8L133.1 57.2M545.4 38.5L570.4 37.5M101.8 64.3L137.7 61.1M311.9 81.9L333.2 79.4M306.6 71.2L336.9 68.0M105.4 109.2L145.7 104.5M2.0 83.0L2.1 83.0M652.4 33.4L687.5 32.0M47.9 87.4L58.6 86.4M377.8 60.8L411.9 57.3M349.0 80.5L379.8 77.0M425.1 39.6L444.4 37.8M37.9 115.0L70.1 111.4M403.9 51.6L448.8 47.2M664.6 36.0L690.2 34.6M40.8 66.4L78.2 63.2M459.5 46.0L478.6 44.2M39.1 121.2L66.1 118.0M2.0 125.2L25.0 122.5M669.6 28.4L691.2 27.9M64.4 71.1L82.8 69.4M631.7 39.2L642.3 38.6M339.5 61.3L376.8 57.5M70.3 105.6L109.3 101.3M523.5 63.2L562.6 59.0M145.8 79.5L173.1 76.7M477.4 62.8L520.3 58.7M34.7 87.1L67.6 83.9M128.7 73.5L151.1 71.4M298.4 77.8L331.6 74.2M477.4 29.9L488.9 29.7M631.2 30.8L662.5 30.0M2.0 98.5L-13.6 100.1M433.6 31.3L459.2 29.2M695.3 32.2L707.3 31.7M71.8 78.3L115.1 74.2M90.3 73.5L120.4 70.7M168.3 108.0L185.4 106.0" stroke="#a06080" stroke-width="0.9" opacity="0.22" fill="none"/><path d="M2 130.3 L713 44.5" stroke="#8a2a5a" stroke-width="1" opacity="0.8"/><path d="M2 63 L476 24" stroke="#9a4a70" stroke-width="0.8" opacity="0.6"/><polygon points="10,172 61,172 61,198 10,198" fill="#1d4a85" opacity="0.35"/><path d="M10 172 L61 172 M10 172 L10 198 M61 172 L61 198" stroke="#0c1a4a" stroke-width="1" opacity="0.6" fill="none"/><polygon points="142,177 194,177 194,205 142,205" fill="#1d4a85" opacity="0.35"/><path d="M142 177 L194 177 M142 177 L142 205 M194 177 L194 205" stroke="#0c1a4a" stroke-width="1" opacity="0.6" fill="none"/><path d="M167 146 L167 178 M256 100 L256 182 M347 102 L347 116" stroke="#19e619" stroke-width="1"/><path d="M163 155 L170 152 L164 158 L171 156 M252 160 L259 157 L253 163 L260 161" stroke="#19e619" stroke-width="1" fill="none"/><path d="M31 388 L36 386 L36 402 L31 404 Z M24 398 L44 399" stroke="#19e619" stroke-width="1" fill="none" opacity="0.9"/><path d="M163 396 L168 394 L168 410 L163 412 Z M156 406 L176 407" stroke="#19e619" stroke-width="1" fill="none" opacity="0.9"/><path d="M300 408 L305 406 L305 422 L300 424 Z M293 418 L313 419" stroke="#19e619" stroke-width="1" fill="none" opacity="0.9"/></g></svg><div style="position:absolute;left:2px;top:432px;width:711px;height:1px;background:#a0a0a0;"></div><div style="position:absolute;left:18.00px;top:438.84px;font:normal 12px/12px 'Liberation Sans', sans-serif;color:#111;white-space:pre;transform:scaleX(0.8600);transform-origin:0 0;">3-D View</div><div style="position:absolute;left:322px;top:126px;width:1018px;height:483px;background:#ffffff;"></div><div style="position:absolute;left:323px;top:127px;width:1016px;height:14px;background:#e6e6e6;"></div><div style="position:absolute;left:323px;top:127px;width:21px;height:480px;background:#e6e6e6;"></div><div style="position:absolute;left:322px;top:126px;width:1018px;height:1px;background:#6a6a6a;"></div><div style="position:absolute;left:322px;top:126px;width:1px;height:483px;background:#6a6a6a;"></div><div style="position:absolute;left:323px;top:127px;width:1016px;height:1px;background:#f7f7f7;"></div><div style="position:absolute;left:323px;top:127px;width:1px;height:483px;background:#f7f7f7;"></div><div style="position:absolute;left:1339px;top:126px;width:1px;height:483px;background:#5a5a5a;"></div><div style="position:absolute;left:322px;top:608px;width:1018px;height:1px;background:#454545;"></div><svg style="position:absolute;left:330px;top:129px" width="12" height="12"><path d="M11.5 1 L11.5 9 L3.5 9 Z" fill="#c2c2c2"/></svg><div style="position:absolute;left:344px;top:127px;width:1px;height:14px;background:#ababab;"></div><div style="position:absolute;left:396px;top:127px;width:1px;height:14px;background:#ababab;"></div><div style="position:absolute;left:448px;top:127px;width:1px;height:14px;background:#ababab;"></div><div style="position:absolute;left:500px;top:127px;width:1px;height:14px;background:#ababab;"></div><div style="position:absolute;left:552px;top:127px;width:1px;height:14px;background:#ababab;"></div><div style="position:absolute;left:597px;top:127px;width:1px;height:14px;background:#ababab;"></div><div style="position:absolute;left:649px;top:127px;width:1px;height:14px;background:#ababab;"></div><div style="position:absolute;left:701px;top:127px;width:1px;height:14px;background:#ababab;"></div><div style="position:absolute;left:753px;top:127px;width:1px;height:14px;background:#ababab;"></div><div style="position:absolute;left:805px;top:127px;width:1px;height:14px;background:#ababab;"></div><div style="position:absolute;left:841px;top:127px;width:1px;height:14px;background:#ababab;"></div><div style="position:absolute;left:877px;top:127px;width:1px;height:14px;background:#ababab;"></div><div style="position:absolute;left:913px;top:127px;width:1px;height:14px;background:#ababab;"></div><div style="position:absolute;left:949px;top:127px;width:1px;height:14px;background:#ababab;"></div><div style="position:absolute;left:985px;top:127px;width:1px;height:14px;background:#ababab;"></div><div style="position:absolute;left:1021px;top:127px;width:1px;height:14px;background:#ababab;"></div><div style="position:absolute;left:1074px;top:127px;width:1px;height:14px;background:#ababab;"></div><div style="position:absolute;left:1127px;top:127px;width:1px;height:14px;background:#ababab;"></div><div style="position:absolute;left:1180px;top:127px;width:1px;height:14px;background:#ababab;"></div><div style="position:absolute;left:1233px;top:127px;width:1px;height:14px;background:#ababab;"></div><div style="position:absolute;left:1286px;top:127px;width:1px;height:14px;background:#ababab;"></div><div style="position:absolute;left:323px;top:141px;width:1016px;height:1px;background:#ababab;"></div><div style="position:absolute;left:366.83px;top:128.29px;font:normal 11px/11px 'Liberation Sans', sans-serif;color:#222;white-space:pre;transform:scaleX(1.0000);transform-origin:0 0;">A</div><div style="position:absolute;left:418.83px;top:128.29px;font:normal 11px/11px 'Liberation Sans', sans-serif;color:#222;white-space:pre;transform:scaleX(1.0000);transform-origin:0 0;">B</div><div style="position:absolute;left:470.53px;top:128.29px;font:normal 11px/11px 'Liberation Sans', sans-serif;color:#222;white-space:pre;transform:scaleX(1.0000);transform-origin:0 0;">C</div><div style="position:absolute;left:522.53px;top:128.29px;font:normal 11px/11px 'Liberation Sans', sans-serif;color:#222;white-space:pre;transform:scaleX(1.0000);transform-origin:0 0;">D</div><div style="position:absolute;left:571.33px;top:128.29px;font:normal 11px/11px 'Liberation Sans', sans-serif;color:#222;white-space:pre;transform:scaleX(1.0000);transform-origin:0 0;">E</div><div style="position:absolute;left:620.14px;top:128.29px;font:normal 11px/11px 'Liberation Sans', sans-serif;color:#222;white-space:pre;transform:scaleX(1.0000);transform-origin:0 0;">F</div><div style="position:absolute;left:671.22px;top:128.29px;font:normal 11px/11px 'Liberation Sans', sans-serif;color:#222;white-space:pre;transform:scaleX(1.0000);transform-origin:0 0;">G</div><div style="position:absolute;left:723.53px;top:128.29px;font:normal 11px/11px 'Liberation Sans', sans-serif;color:#222;white-space:pre;transform:scaleX(1.0000);transform-origin:0 0;">H</div><div style="position:absolute;left:777.97px;top:128.29px;font:normal 11px/11px 'Liberation Sans', sans-serif;color:#222;white-space:pre;transform:scaleX(1.0000);transform-origin:0 0;">I</div><div style="position:absolute;left:820.75px;top:128.29px;font:normal 11px/11px 'Liberation Sans', sans-serif;color:#222;white-space:pre;transform:scaleX(1.0000);transform-origin:0 0;">J</div><div style="position:absolute;left:855.83px;top:128.29px;font:normal 11px/11px 'Liberation Sans', sans-serif;color:#222;white-space:pre;transform:scaleX(1.0000);transform-origin:0 0;">K</div><div style="position:absolute;left:892.44px;top:128.29px;font:normal 11px/11px 'Liberation Sans', sans-serif;color:#222;white-space:pre;transform:scaleX(1.0000);transform-origin:0 0;">L</div><div style="position:absolute;left:926.92px;top:128.29px;font:normal 11px/11px 'Liberation Sans', sans-serif;color:#222;white-space:pre;transform:scaleX(1.0000);transform-origin:0 0;">M</div><div style="position:absolute;left:963.53px;top:128.29px;font:normal 11px/11px 'Liberation Sans', sans-serif;color:#222;white-space:pre;transform:scaleX(1.0000);transform-origin:0 0;">N</div><div style="position:absolute;left:999.22px;top:128.29px;font:normal 11px/11px 'Liberation Sans', sans-serif;color:#222;white-space:pre;transform:scaleX(1.0000);transform-origin:0 0;">O</div><div style="position:absolute;left:1044.33px;top:128.29px;font:normal 11px/11px 'Liberation Sans', sans-serif;color:#222;white-space:pre;transform:scaleX(1.0000);transform-origin:0 0;">P</div><div style="position:absolute;left:1096.72px;top:128.29px;font:normal 11px/11px 'Liberation Sans', sans-serif;color:#222;white-space:pre;transform:scaleX(1.0000);transform-origin:0 0;">Q</div><div style="position:absolute;left:1150.03px;top:128.29px;font:normal 11px/11px 'Liberation Sans', sans-serif;color:#222;white-space:pre;transform:scaleX(1.0000);transform-origin:0 0;">R</div><div style="position:absolute;left:1203.33px;top:128.29px;font:normal 11px/11px 'Liberation Sans', sans-serif;color:#222;white-space:pre;transform:scaleX(1.0000);transform-origin:0 0;">S</div><div style="position:absolute;left:1256.64px;top:128.29px;font:normal 11px/11px 'Liberation Sans', sans-serif;color:#222;white-space:pre;transform:scaleX(1.0000);transform-origin:0 0;">T</div><div style="position:absolute;left:1309.03px;top:128.29px;font:normal 11px/11px 'Liberation Sans', sans-serif;color:#222;white-space:pre;transform:scaleX(1.0000);transform-origin:0 0;">U</div><div style="position:absolute;left:324px;top:268px;width:20px;height:16px;background:#d4d4d4;"></div><div style="position:absolute;left:323px;top:159px;width:21px;height:1px;background:#ababab;"></div><div style="position:absolute;left:330.33px;top:145.84px;font:normal 12px/12px 'Liberation Sans', sans-serif;color:#222;white-space:pre;transform:scaleX(0.9500);transform-origin:0 0;">1</div><div style="position:absolute;left:323px;top:176px;width:21px;height:1px;background:#ababab;"></div><div style="position:absolute;left:330.33px;top:162.84px;font:normal 12px/12px 'Liberation Sans', sans-serif;color:#222;white-space:pre;transform:scaleX(0.9500);transform-origin:0 0;">2</div><div style="position:absolute;left:323px;top:193px;width:21px;height:1px;background:#ababab;"></div><div style="position:absolute;left:330.33px;top:179.84px;font:normal 12px/12px 'Liberation Sans', sans-serif;color:#222;white-space:pre;transform:scaleX(0.9500);transform-origin:0 0;">3</div><div style="position:absolute;left:323px;top:213px;width:21px;height:1px;background:#ababab;"></div><div style="position:absolute;left:330.33px;top:199.84px;font:normal 12px/12px 'Liberation Sans', sans-serif;color:#222;white-space:pre;transform:scaleX(0.9500);transform-origin:0 0;">4</div><div style="position:absolute;left:323px;top:230px;width:21px;height:1px;background:#ababab;"></div><div style="position:absolute;left:330.33px;top:216.84px;font:normal 12px/12px 'Liberation Sans', sans-serif;color:#222;white-space:pre;transform:scaleX(0.9500);transform-origin:0 0;">5</div><div style="position:absolute;left:323px;top:250px;width:21px;height:1px;background:#ababab;"></div><div style="position:absolute;left:330.33px;top:236.84px;font:normal 12px/12px 'Liberation Sans', sans-serif;color:#222;white-space:pre;transform:scaleX(0.9500);transform-origin:0 0;">6</div><div style="position:absolute;left:323px;top:267px;width:21px;height:1px;background:#ababab;"></div><div style="position:absolute;left:330.33px;top:253.84px;font:normal 12px/12px 'Liberation Sans', sans-serif;color:#222;white-space:pre;transform:scaleX(0.9500);transform-origin:0 0;">7</div><div style="position:absolute;left:323px;top:284px;width:21px;height:1px;background:#ababab;"></div><div style="position:absolute;left:330.33px;top:270.84px;font:normal 12px/12px 'Liberation Sans', sans-serif;color:#217346;white-space:pre;transform:scaleX(0.9500);transform-origin:0 0;">8</div><div style="position:absolute;left:323px;top:301px;width:21px;height:1px;background:#ababab;"></div><div style="position:absolute;left:330.33px;top:287.84px;font:normal 12px/12px 'Liberation Sans', sans-serif;color:#222;white-space:pre;transform:scaleX(0.9500);transform-origin:0 0;">9</div><div style="position:absolute;left:323px;top:318px;width:21px;height:1px;background:#ababab;"></div><div style="position:absolute;left:327.16px;top:304.84px;font:normal 12px/12px 'Liberation Sans', sans-serif;color:#222;white-space:pre;transform:scaleX(0.9500);transform-origin:0 0;">10</div><div style="position:absolute;left:323px;top:335px;width:21px;height:1px;background:#ababab;"></div><div style="position:absolute;left:327.58px;top:321.84px;font:normal 12px/12px 'Liberation Sans', sans-serif;color:#222;white-space:pre;transform:scaleX(0.9500);transform-origin:0 0;">11</div><div style="position:absolute;left:323px;top:352px;width:21px;height:1px;background:#ababab;"></div><div style="position:absolute;left:327.16px;top:338.84px;font:normal 12px/12px 'Liberation Sans', sans-serif;color:#222;white-space:pre;transform:scaleX(0.9500);transform-origin:0 0;">12</div><div style="position:absolute;left:323px;top:369px;width:21px;height:1px;background:#ababab;"></div><div style="position:absolute;left:327.16px;top:355.84px;font:normal 12px/12px 'Liberation Sans', sans-serif;color:#222;white-space:pre;transform:scaleX(0.9500);transform-origin:0 0;">13</div><div style="position:absolute;left:323px;top:386px;width:21px;height:1px;background:#ababab;"></div><div style="position:absolute;left:327.16px;top:372.84px;font:normal 12px/12px 'Liberation Sans', sans-serif;color:#222;white-space:pre;transform:scaleX(0.9500);transform-origin:0 0;">14</div><div style="position:absolute;left:323px;top:403px;width:21px;height:1px;background:#ababab;"></div><div style="position:absolute;left:327.16px;top:389.84px;font:normal 12px/12px 'Liberation Sans', sans-serif;color:#222;white-space:pre;transform:scaleX(0.9500);transform-origin:0 0;">15</div><div style="position:absolute;left:323px;top:420px;width:21px;height:1px;background:#ababab;"></div><div style="position:absolute;left:327.16px;top:406.84px;font:normal 12px/12px 'Liberation Sans', sans-serif;color:#222;white-space:pre;transform:scaleX(0.9500);transform-origin:0 0;">16</div><div style="position:absolute;left:323px;top:437px;width:21px;height:1px;background:#ababab;"></div><div style="position:absolute;left:327.16px;top:423.84px;font:normal 12px/12px 'Liberation Sans', sans-serif;color:#222;white-space:pre;transform:scaleX(0.9500);transform-origin:0 0;">17</div><div style="position:absolute;left:323px;top:454px;width:21px;height:1px;background:#ababab;"></div><div style="position:absolute;left:327.16px;top:440.84px;font:normal 12px/12px 'Liberation Sans', sans-serif;color:#222;white-space:pre;transform:scaleX(0.9500);transform-origin:0 0;">18</div><div style="position:absolute;left:323px;top:471px;width:21px;height:1px;background:#ababab;"></div><div style="position:absolute;left:327.16px;top:457.84px;font:normal 12px/12px 'Liberation Sans', sans-serif;color:#222;white-space:pre;transform:scaleX(0.9500);transform-origin:0 0;">19</div><div style="position:absolute;left:323px;top:488px;width:21px;height:1px;background:#ababab;"></div><div style="position:absolute;left:327.16px;top:474.84px;font:normal 12px/12px 'Liberation Sans', sans-serif;color:#222;white-space:pre;transform:scaleX(0.9500);transform-origin:0 0;">20</div><div style="position:absolute;left:323px;top:505px;width:21px;height:1px;background:#ababab;"></div><div style="position:absolute;left:327.16px;top:491.84px;font:normal 12px/12px 'Liberation Sans', sans-serif;color:#222;white-space:pre;transform:scaleX(0.9500);transform-origin:0 0;">21</div><div style="position:absolute;left:323px;top:522px;width:21px;height:1px;background:#ababab;"></div><div style="position:absolute;left:327.16px;top:508.84px;font:normal 12px/12px 'Liberation Sans', sans-serif;color:#222;white-space:pre;transform:scaleX(0.9500);transform-origin:0 0;">22</div><div style="position:absolute;left:323px;top:539px;width:21px;height:1px;background:#ababab;"></div><div style="position:absolute;left:327.16px;top:525.84px;font:normal 12px/12px 'Liberation Sans', sans-serif;color:#222;white-space:pre;transform:scaleX(0.9500);transform-origin:0 0;">23</div><div style="position:absolute;left:323px;top:556px;width:21px;height:1px;background:#ababab;"></div><div style="position:absolute;left:327.16px;top:542.84px;font:normal 12px/12px 'Liberation Sans', sans-serif;color:#222;white-space:pre;transform:scaleX(0.9500);transform-origin:0 0;">24</div><div style="position:absolute;left:323px;top:573px;width:21px;height:1px;background:#ababab;"></div><div style="position:absolute;left:327.16px;top:559.84px;font:normal 12px/12px 'Liberation Sans', sans-serif;color:#222;white-space:pre;transform:scaleX(0.9500);transform-origin:0 0;">25</div><div style="position:absolute;left:323px;top:590px;width:21px;height:1px;background:#ababab;"></div><div style="position:absolute;left:327.16px;top:576.84px;font:normal 12px/12px 'Liberation Sans', sans-serif;color:#222;white-space:pre;transform:scaleX(0.9500);transform-origin:0 0;">26</div><div style="position:absolute;left:323px;top:607px;width:21px;height:1px;background:#ababab;"></div><div style="position:absolute;left:327.16px;top:593.84px;font:normal 12px/12px 'Liberation Sans', sans-serif;color:#222;white-space:pre;transform:scaleX(0.9500);transform-origin:0 0;">27</div><div style="position:absolute;left:344px;top:141px;width:1px;height:466px;background:#ababab;"></div><div style="position:absolute;left:343px;top:268px;width:2px;height:16px;background:#217346;"></div><svg style="position:absolute;left:449px;top:214px" width="6" height="6"><path d="M0 0 L5 0 L0 5 Z" fill="#1f8a3a"/></svg><div style="position:absolute;left:345px;top:159px;width:994px;height:1px;background:#d9d9d9;"></div><div style="position:absolute;left:345px;top:176px;width:994px;height:1px;background:#d9d9d9;"></div><div style="position:absolute;left:345px;top:193px;width:994px;height:1px;background:#d9d9d9;"></div><div style="position:absolute;left:345px;top:213px;width:994px;height:1px;background:#d9d9d9;"></div><div style="position:absolute;left:345px;top:230px;width:994px;height:1px;background:#d9d9d9;"></div><div style="position:absolute;left:345px;top:250px;width:994px;height:1px;background:#d9d9d9;"></div><div style="position:absolute;left:345px;top:267px;width:994px;height:1px;background:#d9d9d9;"></div><div style="position:absolute;left:345px;top:284px;width:994px;height:1px;background:#d9d9d9;"></div><div style="position:absolute;left:345px;top:301px;width:994px;height:1px;background:#d9d9d9;"></div><div style="position:absolute;left:345px;top:318px;width:994px;height:1px;background:#d9d9d9;"></div><div style="position:absolute;left:345px;top:335px;width:994px;height:1px;background:#d9d9d9;"></div><div style="position:absolute;left:345px;top:352px;width:994px;height:1px;background:#d9d9d9;"></div><div style="position:absolute;left:345px;top:369px;width:994px;height:1px;background:#d9d9d9;"></div><div style="position:absolute;left:345px;top:386px;width:994px;height:1px;background:#d9d9d9;"></div><div style="position:absolute;left:345px;top:403px;width:994px;height:1px;background:#d9d9d9;"></div><div style="position:absolute;left:345px;top:420px;width:994px;height:1px;background:#d9d9d9;"></div><div style="position:absolute;left:345px;top:437px;width:994px;height:1px;background:#d9d9d9;"></div><div style="position:absolute;left:345px;top:454px;width:994px;height:1px;background:#d9d9d9;"></div><div style="position:absolute;left:345px;top:471px;width:994px;height:1px;background:#d9d9d9;"></div><div style="position:absolute;left:345px;top:488px;width:994px;height:1px;background:#d9d9d9;"></div><div style="position:absolute;left:345px;top:505px;width:994px;height:1px;background:#d9d9d9;"></div><div style="position:absolute;left:345px;top:522px;width:994px;height:1px;background:#d9d9d9;"></div><div style="position:absolute;left:345px;top:539px;width:994px;height:1px;background:#d9d9d9;"></div><div style="position:absolute;left:345px;top:556px;width:994px;height:1px;background:#d9d9d9;"></div><div style="position:absolute;left:345px;top:573px;width:994px;height:1px;background:#d9d9d9;"></div><div style="position:absolute;left:345px;top:590px;width:994px;height:1px;background:#d9d9d9;"></div><div style="position:absolute;left:552px;top:142px;width:1px;height:18px;background:#d9d9d9;"></div><div style="position:absolute;left:597px;top:142px;width:1px;height:18px;background:#d9d9d9;"></div><div style="position:absolute;left:649px;top:142px;width:1px;height:18px;background:#d9d9d9;"></div><div style="position:absolute;left:701px;top:142px;width:1px;height:18px;background:#d9d9d9;"></div><div style="position:absolute;left:753px;top:142px;width:1px;height:18px;background:#d9d9d9;"></div><div style="position:absolute;left:805px;top:142px;width:1px;height:18px;background:#d9d9d9;"></div><div style="position:absolute;left:841px;top:142px;width:1px;height:18px;background:#d9d9d9;"></div><div style="position:absolute;left:877px;top:142px;width:1px;height:18px;background:#d9d9d9;"></div><div style="position:absolute;left:913px;top:142px;width:1px;height:18px;background:#d9d9d9;"></div><div style="position:absolute;left:949px;top:142px;width:1px;height:18px;background:#d9d9d9;"></div><div style="position:absolute;left:985px;top:142px;width:1px;height:18px;background:#d9d9d9;"></div><div style="position:absolute;left:1021px;top:142px;width:1px;height:18px;background:#d9d9d9;"></div><div style="position:absolute;left:1180px;top:142px;width:1px;height:18px;background:#d9d9d9;"></div><div style="position:absolute;left:1233px;top:142px;width:1px;height:18px;background:#d9d9d9;"></div><div style="position:absolute;left:1286px;top:142px;width:1px;height:18px;background:#d9d9d9;"></div><div style="position:absolute;left:448px;top:160px;width:1px;height:17px;background:#d9d9d9;"></div><div style="position:absolute;left:597px;top:160px;width:1px;height:17px;background:#d9d9d9;"></div><div style="position:absolute;left:753px;top:160px;width:1px;height:17px;background:#d9d9d9;"></div><div style="position:absolute;left:877px;top:160px;width:1px;height:17px;background:#d9d9d9;"></div><div style="position:absolute;left:913px;top:160px;width:1px;height:17px;background:#d9d9d9;"></div><div style="position:absolute;left:949px;top:160px;width:1px;height:17px;background:#d9d9d9;"></div><div style="position:absolute;left:985px;top:160px;width:1px;height:17px;background:#d9d9d9;"></div><div style="position:absolute;left:1021px;top:160px;width:1px;height:17px;background:#d9d9d9;"></div><div style="position:absolute;left:1286px;top:160px;width:1px;height:17px;background:#d9d9d9;"></div><div style="position:absolute;left:448px;top:177px;width:1px;height:17px;background:#d9d9d9;"></div><div style="position:absolute;left:500px;top:177px;width:1px;height:17px;background:#d9d9d9;"></div><div style="position:absolute;left:552px;top:177px;width:1px;height:17px;background:#d9d9d9;"></div><div style="position:absolute;left:597px;top:177px;width:1px;height:17px;background:#d9d9d9;"></div><div style="position:absolute;left:649px;top:177px;width:1px;height:17px;background:#d9d9d9;"></div><div style="position:absolute;left:753px;top:177px;width:1px;height:17px;background:#d9d9d9;"></div><div style="position:absolute;left:805px;top:177px;width:1px;height:17px;background:#d9d9d9;"></div><div style="position:absolute;left:841px;top:177px;width:1px;height:17px;background:#d9d9d9;"></div><div style="position:absolute;left:877px;top:177px;width:1px;height:17px;background:#d9d9d9;"></div><div style="position:absolute;left:913px;top:177px;width:1px;height:17px;background:#d9d9d9;"></div><div style="position:absolute;left:949px;top:177px;width:1px;height:17px;background:#d9d9d9;"></div><div style="position:absolute;left:985px;top:177px;width:1px;height:17px;background:#d9d9d9;"></div><div style="position:absolute;left:1021px;top:177px;width:1px;height:17px;background:#d9d9d9;"></div><div style="position:absolute;left:1127px;top:177px;width:1px;height:17px;background:#d9d9d9;"></div><div style="position:absolute;left:448px;top:194px;width:1px;height:20px;background:#d9d9d9;"></div><div style="position:absolute;left:500px;top:194px;width:1px;height:20px;background:#d9d9d9;"></div><div style="position:absolute;left:552px;top:194px;width:1px;height:20px;background:#d9d9d9;"></div><div style="position:absolute;left:597px;top:194px;width:1px;height:20px;background:#d9d9d9;"></div><div style="position:absolute;left:753px;top:194px;width:1px;height:20px;background:#d9d9d9;"></div><div style="position:absolute;left:805px;top:194px;width:1px;height:20px;background:#d9d9d9;"></div><div style="position:absolute;left:841px;top:194px;width:1px;height:20px;background:#d9d9d9;"></div><div style="position:absolute;left:877px;top:194px;width:1px;height:20px;background:#d9d9d9;"></div><div style="position:absolute;left:913px;top:194px;width:1px;height:20px;background:#d9d9d9;"></div><div style="position:absolute;left:949px;top:194px;width:1px;height:20px;background:#d9d9d9;"></div><div style="position:absolute;left:985px;top:194px;width:1px;height:20px;background:#d9d9d9;"></div><div style="position:absolute;left:1021px;top:194px;width:1px;height:20px;background:#d9d9d9;"></div><div style="position:absolute;left:448px;top:214px;width:1px;height:17px;background:#d9d9d9;"></div><div style="position:absolute;left:500px;top:214px;width:1px;height:17px;background:#d9d9d9;"></div><div style="position:absolute;left:552px;top:214px;width:1px;height:17px;background:#d9d9d9;"></div><div style="position:absolute;left:597px;top:214px;width:1px;height:17px;background:#d9d9d9;"></div><div style="position:absolute;left:649px;top:214px;width:1px;height:17px;background:#d9d9d9;"></div><div style="position:absolute;left:753px;top:214px;width:1px;height:17px;background:#d9d9d9;"></div><div style="position:absolute;left:841px;top:214px;width:1px;height:17px;background:#d9d9d9;"></div><div style="position:absolute;left:877px;top:214px;width:1px;height:17px;background:#d9d9d9;"></div><div style="position:absolute;left:913px;top:214px;width:1px;height:17px;background:#d9d9d9;"></div><div style="position:absolute;left:949px;top:214px;width:1px;height:17px;background:#d9d9d9;"></div><div style="position:absolute;left:985px;top:214px;width:1px;height:17px;background:#d9d9d9;"></div><div style="position:absolute;left:1021px;top:214px;width:1px;height:17px;background:#d9d9d9;"></div><div style="position:absolute;left:1074px;top:214px;width:1px;height:17px;background:#d9d9d9;"></div><div style="position:absolute;left:1127px;top:214px;width:1px;height:17px;background:#d9d9d9;"></div><div style="position:absolute;left:1180px;top:214px;width:1px;height:17px;background:#d9d9d9;"></div><div style="position:absolute;left:1233px;top:214px;width:1px;height:17px;background:#d9d9d9;"></div><div style="position:absolute;left:1286px;top:214px;width:1px;height:17px;background:#d9d9d9;"></div><div style="position:absolute;left:448px;top:231px;width:1px;height:20px;background:#d9d9d9;"></div><div style="position:absolute;left:552px;top:231px;width:1px;height:20px;background:#d9d9d9;"></div><div style="position:absolute;left:753px;top:231px;width:1px;height:20px;background:#d9d9d9;"></div><div style="position:absolute;left:805px;top:231px;width:1px;height:20px;background:#d9d9d9;"></div><div style="position:absolute;left:841px;top:231px;width:1px;height:20px;background:#d9d9d9;"></div><div style="position:absolute;left:877px;top:231px;width:1px;height:20px;background:#d9d9d9;"></div><div style="position:absolute;left:913px;top:231px;width:1px;height:20px;background:#d9d9d9;"></div><div style="position:absolute;left:949px;top:231px;width:1px;height:20px;background:#d9d9d9;"></div><div style="position:absolute;left:985px;top:231px;width:1px;height:20px;background:#d9d9d9;"></div><div style="position:absolute;left:1021px;top:231px;width:1px;height:20px;background:#d9d9d9;"></div><div style="position:absolute;left:1074px;top:231px;width:1px;height:20px;background:#d9d9d9;"></div><div style="position:absolute;left:1127px;top:231px;width:1px;height:20px;background:#d9d9d9;"></div><div style="position:absolute;left:1180px;top:231px;width:1px;height:20px;background:#d9d9d9;"></div><div style="position:absolute;left:1233px;top:231px;width:1px;height:20px;background:#d9d9d9;"></div><div style="position:absolute;left:1286px;top:231px;width:1px;height:20px;background:#d9d9d9;"></div><div style="position:absolute;left:396px;top:251px;width:1px;height:17px;background:#d9d9d9;"></div><div style="position:absolute;left:448px;top:251px;width:1px;height:17px;background:#d9d9d9;"></div><div style="position:absolute;left:500px;top:251px;width:1px;height:17px;background:#d9d9d9;"></div><div style="position:absolute;left:552px;top:251px;width:1px;height:17px;background:#d9d9d9;"></div><div style="position:absolute;left:597px;top:251px;width:1px;height:17px;background:#d9d9d9;"></div><div style="position:absolute;left:753px;top:251px;width:1px;height:17px;background:#d9d9d9;"></div><div style="position:absolute;left:805px;top:251px;width:1px;height:17px;background:#d9d9d9;"></div><div style="position:absolute;left:841px;top:251px;width:1px;height:17px;background:#d9d9d9;"></div><div style="position:absolute;left:877px;top:251px;width:1px;height:17px;background:#d9d9d9;"></div><div style="position:absolute;left:913px;top:251px;width:1px;height:17px;background:#d9d9d9;"></div><div style="position:absolute;left:949px;top:251px;width:1px;height:17px;background:#d9d9d9;"></div><div style="position:absolute;left:985px;top:251px;width:1px;height:17px;background:#d9d9d9;"></div><div style="position:absolute;left:1021px;top:251px;width:1px;height:17px;background:#d9d9d9;"></div><div style="position:absolute;left:1074px;top:251px;width:1px;height:17px;background:#d9d9d9;"></div><div style="position:absolute;left:1127px;top:251px;width:1px;height:17px;background:#d9d9d9;"></div><div style="position:absolute;left:1180px;top:251px;width:1px;height:17px;background:#d9d9d9;"></div><div style="position:absolute;left:1233px;top:251px;width:1px;height:17px;background:#d9d9d9;"></div><div style="position:absolute;left:1286px;top:251px;width:1px;height:17px;background:#d9d9d9;"></div><div style="position:absolute;left:396px;top:268px;width:1px;height:17px;background:#d9d9d9;"></div><div style="position:absolute;left:448px;top:268px;width:1px;height:17px;background:#d9d9d9;"></div><div style="position:absolute;left:500px;top:268px;width:1px;height:17px;background:#d9d9d9;"></div><div style="position:absolute;left:552px;top:268px;width:1px;height:17px;background:#d9d9d9;"></div><div style="position:absolute;left:597px;top:268px;width:1px;height:17px;background:#d9d9d9;"></div><div style="position:absolute;left:649px;top:268px;width:1px;height:17px;background:#d9d9d9;"></div><div style="position:absolute;left:701px;top:268px;width:1px;height:17px;background:#d9d9d9;"></div><div style="position:absolute;left:753px;top:268px;width:1px;height:17px;background:#d9d9d9;"></div><div style="position:absolute;left:805px;top:268px;width:1px;height:17px;background:#d9d9d9;"></div><div style="position:absolute;left:841px;top:268px;width:1px;height:17px;background:#d9d9d9;"></div><div style="position:absolute;left:877px;top:268px;width:1px;height:17px;background:#d9d9d9;"></div><div style="position:absolute;left:913px;top:268px;width:1px;height:17px;background:#d9d9d9;"></div><div style="position:absolute;left:949px;top:268px;width:1px;height:17px;background:#d9d9d9;"></div><div style="position:absolute;left:985px;top:268px;width:1px;height:17px;background:#d9d9d9;"></div><div style="position:absolute;left:1021px;top:268px;width:1px;height:17px;background:#d9d9d9;"></div><div style="position:absolute;left:1074px;top:268px;width:1px;height:17px;background:#d9d9d9;"></div><div style="position:absolute;left:1127px;top:268px;width:1px;height:17px;background:#d9d9d9;"></div><div style="position:absolute;left:1180px;top:268px;width:1px;height:17px;background:#d9d9d9;"></div><div style="position:absolute;left:1233px;top:268px;width:1px;height:17px;background:#d9d9d9;"></div><div style="position:absolute;left:1286px;top:268px;width:1px;height:17px;background:#d9d9d9;"></div><div style="position:absolute;left:396px;top:285px;width:1px;height:17px;background:#d9d9d9;"></div><div style="position:absolute;left:448px;top:285px;width:1px;height:17px;background:#d9d9d9;"></div><div style="position:absolute;left:500px;top:285px;width:1px;height:17px;background:#d9d9d9;"></div><div style="position:absolute;left:552px;top:285px;width:1px;height:17px;background:#d9d9d9;"></div><div style="position:absolute;left:597px;top:285px;width:1px;height:17px;background:#d9d9d9;"></div><div style="position:absolute;left:649px;top:285px;width:1px;height:17px;background:#d9d9d9;"></div><div style="position:absolute;left:701px;top:285px;width:1px;height:17px;background:#d9d9d9;"></div><div style="position:absolute;left:753px;top:285px;width:1px;height:17px;background:#d9d9d9;"></div><div style="position:absolute;left:805px;top:285px;width:1px;height:17px;background:#d9d9d9;"></div><div style="position:absolute;left:841px;top:285px;width:1px;height:17px;background:#d9d9d9;"></div><div style="position:absolute;left:877px;top:285px;width:1px;height:17px;background:#d9d9d9;"></div><div style="position:absolute;left:913px;top:285px;width:1px;height:17px;background:#d9d9d9;"></div><div style="position:absolute;left:949px;top:285px;width:1px;height:17px;background:#d9d9d9;"></div><div style="position:absolute;left:985px;top:285px;width:1px;height:17px;background:#d9d9d9;"></div><div style="position:absolute;left:1021px;top:285px;width:1px;height:17px;background:#d9d9d9;"></div><div style="position:absolute;left:1074px;top:285px;width:1px;height:17px;background:#d9d9d9;"></div><div style="position:absolute;left:1127px;top:285px;width:1px;height:17px;background:#d9d9d9;"></div><div style="position:absolute;left:1180px;top:285px;width:1px;height:17px;background:#d9d9d9;"></div><div style="position:absolute;left:1233px;top:285px;width:1px;height:17px;background:#d9d9d9;"></div><div style="position:absolute;left:1286px;top:285px;width:1px;height:17px;background:#d9d9d9;"></div><div style="position:absolute;left:396px;top:302px;width:1px;height:17px;background:#d9d9d9;"></div><div style="position:absolute;left:448px;top:302px;width:1px;height:17px;background:#d9d9d9;"></div><div style="position:absolute;left:500px;top:302px;width:1px;height:17px;background:#d9d9d9;"></div><div style="position:absolute;left:552px;top:302px;width:1px;height:17px;background:#d9d9d9;"></div><div style="position:absolute;left:597px;top:302px;width:1px;height:17px;background:#d9d9d9;"></div><div style="position:absolute;left:649px;top:302px;width:1px;height:17px;background:#d9d9d9;"></div><div style="position:absolute;left:701px;top:302px;width:1px;height:17px;background:#d9d9d9;"></div><div style="position:absolute;left:753px;top:302px;width:1px;height:17px;background:#d9d9d9;"></div><div style="position:absolute;left:805px;top:302px;width:1px;height:17px;background:#d9d9d9;"></div><div style="position:absolute;left:841px;top:302px;width:1px;height:17px;background:#d9d9d9;"></div><div style="position:absolute;left:877px;top:302px;width:1px;height:17px;background:#d9d9d9;"></div><div style="position:absolute;left:913px;top:302px;width:1px;height:17px;background:#d9d9d9;"></div><div style="position:absolute;left:949px;top:302px;width:1px;height:17px;background:#d9d9d9;"></div><div style="position:absolute;left:985px;top:302px;width:1px;height:17px;background:#d9d9d9;"></div><div style="position:absolute;left:1021px;top:302px;width:1px;height:17px;background:#d9d9d9;"></div><div style="position:absolute;left:1074px;top:302px;width:1px;height:17px;background:#d9d9d9;"></div><div style="position:absolute;left:1127px;top:302px;width:1px;height:17px;background:#d9d9d9;"></div><div style="position:absolute;left:1180px;top:302px;width:1px;height:17px;background:#d9d9d9;"></div><div style="position:absolute;left:1233px;top:302px;width:1px;height:17px;background:#d9d9d9;"></div><div style="position:absolute;left:1286px;top:302px;width:1px;height:17px;background:#d9d9d9;"></div><div style="position:absolute;left:396px;top:319px;width:1px;height:17px;background:#d9d9d9;"></div><div style="position:absolute;left:448px;top:319px;width:1px;height:17px;background:#d9d9d9;"></div><div style="position:absolute;left:500px;top:319px;width:1px;height:17px;background:#d9d9d9;"></div><div style="position:absolute;left:552px;top:319px;width:1px;height:17px;background:#d9d9d9;"></div><div style="position:absolute;left:597px;top:319px;width:1px;height:17px;background:#d9d9d9;"></div><div style="position:absolute;left:649px;top:319px;width:1px;height:17px;background:#d9d9d9;"></div><div style="position:absolute;left:701px;top:319px;width:1px;height:17px;background:#d9d9d9;"></div><div style="position:absolute;left:753px;top:319px;width:1px;height:17px;background:#d9d9d9;"></div><div style="position:absolute;left:805px;top:319px;width:1px;height:17px;background:#d9d9d9;"></div><div style="position:absolute;left:841px;top:319px;width:1px;height:17px;background:#d9d9d9;"></div><div style="position:absolute;left:877px;top:319px;width:1px;height:17px;background:#d9d9d9;"></div><div style="position:absolute;left:913px;top:319px;width:1px;height:17px;background:#d9d9d9;"></div><div style="position:absolute;left:949px;top:319px;width:1px;height:17px;background:#d9d9d9;"></div><div style="position:absolute;left:985px;top:319px;width:1px;height:17px;background:#d9d9d9;"></div><div style="position:absolute;left:1021px;top:319px;width:1px;height:17px;background:#d9d9d9;"></div><div style="position:absolute;left:1074px;top:319px;width:1px;height:17px;background:#d9d9d9;"></div><div style="position:absolute;left:1127px;top:319px;width:1px;height:17px;background:#d9d9d9;"></div><div style="position:absolute;left:1180px;top:319px;width:1px;height:17px;background:#d9d9d9;"></div><div style="position:absolute;left:1233px;top:319px;width:1px;height:17px;background:#d9d9d9;"></div><div style="position:absolute;left:1286px;top:319px;width:1px;height:17px;background:#d9d9d9;"></div><div style="position:absolute;left:396px;top:336px;width:1px;height:17px;background:#d9d9d9;"></div><div style="position:absolute;left:448px;top:336px;width:1px;height:17px;background:#d9d9d9;"></div><div style="position:absolute;left:500px;top:336px;width:1px;height:17px;background:#d9d9d9;"></div><div style="position:absolute;left:552px;top:336px;width:1px;height:17px;background:#d9d9d9;"></div><div style="position:absolute;left:597px;top:336px;width:1px;height:17px;background:#d9d9d9;"></div><div style="position:absolute;left:649px;top:336px;width:1px;height:17px;background:#d9d9d9;"></div><div style="position:absolute;left:701px;top:336px;width:1px;height:17px;background:#d9d9d9;"></div><div style="position:absolute;left:753px;top:336px;width:1px;height:17px;background:#d9d9d9;"></div><div style="position:absolute;left:805px;top:336px;width:1px;height:17px;background:#d9d9d9;"></div><div style="position:absolute;left:841px;top:336px;width:1px;height:17px;background:#d9d9d9;"></div><div style="position:absolute;left:877px;top:336px;width:1px;height:17px;background:#d9d9d9;"></div><div style="position:absolute;left:913px;top:336px;width:1px;height:17px;background:#d9d9d9;"></div><div style="position:absolute;left:949px;top:336px;width:1px;height:17px;background:#d9d9d9;"></div><div style="position:absolute;left:985px;top:336px;width:1px;height:17px;background:#d9d9d9;"></div><div style="position:absolute;left:1021px;top:336px;width:1px;height:17px;background:#d9d9d9;"></div><div style="position:absolute;left:1074px;top:336px;width:1px;height:17px;background:#d9d9d9;"></div><div style="position:absolute;left:1127px;top:336px;width:1px;height:17px;background:#d9d9d9;"></div><div style="position:absolute;left:1180px;top:336px;width:1px;height:17px;background:#d9d9d9;"></div><div style="position:absolute;left:1233px;top:336px;width:1px;height:17px;background:#d9d9d9;"></div><div style="position:absolute;left:1286px;top:336px;width:1px;height:17px;background:#d9d9d9;"></div><div style="position:absolute;left:396px;top:353px;width:1px;height:17px;background:#d9d9d9;"></div><div style="position:absolute;left:448px;top:353px;width:1px;height:17px;background:#d9d9d9;"></div><div style="position:absolute;left:500px;top:353px;width:1px;height:17px;background:#d9d9d9;"></div><div style="position:absolute;left:552px;top:353px;width:1px;height:17px;background:#d9d9d9;"></div><div style="position:absolute;left:597px;top:353px;width:1px;height:17px;background:#d9d9d9;"></div><div style="position:absolute;left:649px;top:353px;width:1px;height:17px;background:#d9d9d9;"></div><div style="position:absolute;left:701px;top:353px;width:1px;height:17px;background:#d9d9d9;"></div><div style="position:absolute;left:753px;top:353px;width:1px;height:17px;background:#d9d9d9;"></div><div style="position:absolute;left:805px;top:353px;width:1px;height:17px;background:#d9d9d9;"></div><div style="position:absolute;left:841px;top:353px;width:1px;height:17px;background:#d9d9d9;"></div><div style="position:absolute;left:877px;top:353px;width:1px;height:17px;background:#d9d9d9;"></div><div style="position:absolute;left:913px;top:353px;width:1px;height:17px;background:#d9d9d9;"></div><div style="position:absolute;left:949px;top:353px;width:1px;height:17px;background:#d9d9d9;"></div><div style="position:absolute;left:985px;top:353px;width:1px;height:17px;background:#d9d9d9;"></div><div style="position:absolute;left:1021px;top:353px;width:1px;height:17px;background:#d9d9d9;"></div><div style="position:absolute;left:1074px;top:353px;width:1px;height:17px;background:#d9d9d9;"></div><div style="position:absolute;left:1127px;top:353px;width:1px;height:17px;background:#d9d9d9;"></div><div style="position:absolute;left:1180px;top:353px;width:1px;height:17px;background:#d9d9d9;"></div><div style="position:absolute;left:1233px;top:353px;width:1px;height:17px;background:#d9d9d9;"></div><div style="position:absolute;left:1286px;top:353px;width:1px;height:17px;background:#d9d9d9;"></div><div style="position:absolute;left:396px;top:370px;width:1px;height:17px;background:#d9d9d9;"></div><div style="position:absolute;left:448px;top:370px;width:1px;height:17px;background:#d9d9d9;"></div><div style="position:absolute;left:500px;top:370px;width:1px;height:17px;background:#d9d9d9;"></div><div style="position:absolute;left:552px;top:370px;width:1px;height:17px;background:#d9d9d9;"></div><div style="position:absolute;left:597px;top:370px;width:1px;height:17px;background:#d9d9d9;"></div><div style="position:absolute;left:649px;top:370px;width:1px;height:17px;background:#d9d9d9;"></div><div style="position:absolute;left:701px;top:370px;width:1px;height:17px;background:#d9d9d9;"></div><div style="position:absolute;left:753px;top:370px;width:1px;height:17px;background:#d9d9d9;"></div><div style="position:absolute;left:805px;top:370px;width:1px;height:17px;background:#d9d9d9;"></div><div style="position:absolute;left:841px;top:370px;width:1px;height:17px;background:#d9d9d9;"></div><div style="position:absolute;left:877px;top:370px;width:1px;height:17px;background:#d9d9d9;"></div><div style="position:absolute;left:913px;top:370px;width:1px;height:17px;background:#d9d9d9;"></div><div style="position:absolute;left:949px;top:370px;width:1px;height:17px;background:#d9d9d9;"></div><div style="position:absolute;left:985px;top:370px;width:1px;height:17px;background:#d9d9d9;"></div><div style="position:absolute;left:1021px;top:370px;width:1px;height:17px;background:#d9d9d9;"></div><div style="position:absolute;left:1074px;top:370px;width:1px;height:17px;background:#d9d9d9;"></div><div style="position:absolute;left:1127px;top:370px;width:1px;height:17px;background:#d9d9d9;"></div><div style="position:absolute;left:1180px;top:370px;width:1px;height:17px;background:#d9d9d9;"></div><div style="position:absolute;left:1233px;top:370px;width:1px;height:17px;background:#d9d9d9;"></div><div style="position:absolute;left:1286px;top:370px;width:1px;height:17px;background:#d9d9d9;"></div><div style="position:absolute;left:396px;top:387px;width:1px;height:17px;background:#d9d9d9;"></div><div style="position:absolute;left:448px;top:387px;width:1px;height:17px;background:#d9d9d9;"></div><div style="position:absolute;left:500px;top:387px;width:1px;height:17px;background:#d9d9d9;"></div><div style="position:absolute;left:552px;top:387px;width:1px;height:17px;background:#d9d9d9;"></div><div style="position:absolute;left:597px;top:387px;width:1px;height:17px;background:#d9d9d9;"></div><div style="position:absolute;left:649px;top:387px;width:1px;height:17px;background:#d9d9d9;"></div><div style="position:absolute;left:701px;top:387px;width:1px;height:17px;background:#d9d9d9;"></div><div style="position:absolute;left:753px;top:387px;width:1px;height:17px;background:#d9d9d9;"></div><div style="position:absolute;left:805px;top:387px;width:1px;height:17px;background:#d9d9d9;"></div><div style="position:absolute;left:841px;top:387px;width:1px;height:17px;background:#d9d9d9;"></div><div style="position:absolute;left:877px;top:387px;width:1px;height:17px;background:#d9d9d9;"></div><div style="position:absolute;left:913px;top:387px;width:1px;height:17px;background:#d9d9d9;"></div><div style="position:absolute;left:949px;top:387px;width:1px;height:17px;background:#d9d9d9;"></div><div style="position:absolute;left:985px;top:387px;width:1px;height:17px;background:#d9d9d9;"></div><div style="position:absolute;left:1021px;top:387px;width:1px;height:17px;background:#d9d9d9;"></div><div style="position:absolute;left:1074px;top:387px;width:1px;height:17px;background:#d9d9d9;"></div><div style="position:absolute;left:1127px;top:387px;width:1px;height:17px;background:#d9d9d9;"></div><div style="position:absolute;left:1180px;top:387px;width:1px;height:17px;background:#d9d9d9;"></div><div style="position:absolute;left:1233px;top:387px;width:1px;height:17px;background:#d9d9d9;"></div><div style="position:absolute;left:1286px;top:387px;width:1px;height:17px;background:#d9d9d9;"></div><div style="position:absolute;left:396px;top:404px;width:1px;height:17px;background:#d9d9d9;"></div><div style="position:absolute;left:448px;top:404px;width:1px;height:17px;background:#d9d9d9;"></div><div style="position:absolute;left:500px;top:404px;width:1px;height:17px;background:#d9d9d9;"></div><div style="position:absolute;left:552px;top:404px;width:1px;height:17px;background:#d9d9d9;"></div><div style="position:absolute;left:597px;top:404px;width:1px;height:17px;background:#d9d9d9;"></div><div style="position:absolute;left:649px;top:404px;width:1px;height:17px;background:#d9d9d9;"></div><div style="position:absolute;left:701px;top:404px;width:1px;height:17px;background:#d9d9d9;"></div><div style="position:absolute;left:753px;top:404px;width:1px;height:17px;background:#d9d9d9;"></div><div style="position:absolute;left:805px;top:404px;width:1px;height:17px;background:#d9d9d9;"></div><div style="position:absolute;left:841px;top:404px;width:1px;height:17px;background:#d9d9d9;"></div><div style="position:absolute;left:877px;top:404px;width:1px;height:17px;background:#d9d9d9;"></div><div style="position:absolute;left:913px;top:404px;width:1px;height:17px;background:#d9d9d9;"></div><div style="position:absolute;left:949px;top:404px;width:1px;height:17px;background:#d9d9d9;"></div><div style="position:absolute;left:985px;top:404px;width:1px;height:17px;background:#d9d9d9;"></div><div style="position:absolute;left:1021px;top:404px;width:1px;height:17px;background:#d9d9d9;"></div><div style="position:absolute;left:1074px;top:404px;width:1px;height:17px;background:#d9d9d9;"></div><div style="position:absolute;left:1127px;top:404px;width:1px;height:17px;background:#d9d9d9;"></div><div style="position:absolute;left:1180px;top:404px;width:1px;height:17px;background:#d9d9d9;"></div><div style="position:absolute;left:1233px;top:404px;width:1px;height:17px;background:#d9d9d9;"></div><div style="position:absolute;left:1286px;top:404px;width:1px;height:17px;background:#d9d9d9;"></div><div style="position:absolute;left:396px;top:421px;width:1px;height:17px;background:#d9d9d9;"></div><div style="position:absolute;left:448px;top:421px;width:1px;height:17px;background:#d9d9d9;"></div><div style="position:absolute;left:500px;top:421px;width:1px;height:17px;background:#d9d9d9;"></div><div style="position:absolute;left:552px;top:421px;width:1px;height:17px;background:#d9d9d9;"></div><div style="position:absolute;left:597px;top:421px;width:1px;height:17px;background:#d9d9d9;"></div><div style="position:absolute;left:649px;top:421px;width:1px;height:17px;background:#d9d9d9;"></div><div style="position:absolute;left:701px;top:421px;width:1px;height:17px;background:#d9d9d9;"></div><div style="position:absolute;left:753px;top:421px;width:1px;height:17px;background:#d9d9d9;"></div><div style="position:absolute;left:805px;top:421px;width:1px;height:17px;background:#d9d9d9;"></div><div style="position:absolute;left:841px;top:421px;width:1px;height:17px;background:#d9d9d9;"></div><div style="position:absolute;left:877px;top:421px;width:1px;height:17px;background:#d9d9d9;"></div><div style="position:absolute;left:913px;top:421px;width:1px;height:17px;background:#d9d9d9;"></div><div style="position:absolute;left:949px;top:421px;width:1px;height:17px;background:#d9d9d9;"></div><div style="position:absolute;left:985px;top:421px;width:1px;height:17px;background:#d9d9d9;"></div><div style="position:absolute;left:1021px;top:421px;width:1px;height:17px;background:#d9d9d9;"></div><div style="position:absolute;left:1074px;top:421px;width:1px;height:17px;background:#d9d9d9;"></div><div style="position:absolute;left:1127px;top:421px;width:1px;height:17px;background:#d9d9d9;"></div><div style="position:absolute;left:1180px;top:421px;width:1px;height:17px;background:#d9d9d9;"></div><div style="position:absolute;left:1233px;top:421px;width:1px;height:17px;background:#d9d9d9;"></div><div style="position:absolute;left:1286px;top:421px;width:1px;height:17px;background:#d9d9d9;"></div><div style="position:absolute;left:396px;top:438px;width:1px;height:17px;background:#d9d9d9;"></div><div style="position:absolute;left:448px;top:438px;width:1px;height:17px;background:#d9d9d9;"></div><div style="position:absolute;left:500px;top:438px;width:1px;height:17px;background:#d9d9d9;"></div><div style="position:absolute;left:552px;top:438px;width:1px;height:17px;background:#d9d9d9;"></div><div style="position:absolute;left:597px;top:438px;width:1px;height:17px;background:#d9d9d9;"></div><div style="position:absolute;left:649px;top:438px;width:1px;height:17px;background:#d9d9d9;"></div><div style="position:absolute;left:701px;top:438px;width:1px;height:17px;background:#d9d9d9;"></div><div style="position:absolute;left:753px;top:438px;width:1px;height:17px;background:#d9d9d9;"></div><div style="position:absolute;left:805px;top:438px;width:1px;height:17px;background:#d9d9d9;"></div><div style="position:absolute;left:841px;top:438px;width:1px;height:17px;background:#d9d9d9;"></div><div style="position:absolute;left:877px;top:438px;width:1px;height:17px;background:#d9d9d9;"></div><div style="position:absolute;left:913px;top:438px;width:1px;height:17px;background:#d9d9d9;"></div><div style="position:absolute;left:949px;top:438px;width:1px;height:17px;background:#d9d9d9;"></div><div style="position:absolute;left:985px;top:438px;width:1px;height:17px;background:#d9d9d9;"></div><div style="position:absolute;left:1021px;top:438px;width:1px;height:17px;background:#d9d9d9;"></div><div style="position:absolute;left:1074px;top:438px;width:1px;height:17px;background:#d9d9d9;"></div><div style="position:absolute;left:1127px;top:438px;width:1px;height:17px;background:#d9d9d9;"></div><div style="position:absolute;left:1180px;top:438px;width:1px;height:17px;background:#d9d9d9;"></div><div style="position:absolute;left:1233px;top:438px;width:1px;height:17px;background:#d9d9d9;"></div><div style="position:absolute;left:1286px;top:438px;width:1px;height:17px;background:#d9d9d9;"></div><div style="position:absolute;left:396px;top:455px;width:1px;height:17px;background:#d9d9d9;"></div><div style="position:absolute;left:448px;top:455px;width:1px;height:17px;background:#d9d9d9;"></div><div style="position:absolute;left:500px;top:455px;width:1px;height:17px;background:#d9d9d9;"></div><div style="position:absolute;left:552px;top:455px;width:1px;height:17px;background:#d9d9d9;"></div><div style="position:absolute;left:597px;top:455px;width:1px;height:17px;background:#d9d9d9;"></div><div style="position:absolute;left:649px;top:455px;width:1px;height:17px;background:#d9d9d9;"></div><div style="position:absolute;left:701px;top:455px;width:1px;height:17px;background:#d9d9d9;"></div><div style="position:absolute;left:753px;top:455px;width:1px;height:17px;background:#d9d9d9;"></div><div style="position:absolute;left:805px;top:455px;width:1px;height:17px;background:#d9d9d9;"></div><div style="position:absolute;left:841px;top:455px;width:1px;height:17px;background:#d9d9d9;"></div><div style="position:absolute;left:877px;top:455px;width:1px;height:17px;background:#d9d9d9;"></div><div style="position:absolute;left:913px;top:455px;width:1px;height:17px;background:#d9d9d9;"></div><div style="position:absolute;left:949px;top:455px;width:1px;height:17px;background:#d9d9d9;"></div><div style="position:absolute;left:985px;top:455px;width:1px;height:17px;background:#d9d9d9;"></div><div style="position:absolute;left:1021px;top:455px;width:1px;height:17px;background:#d9d9d9;"></div><div style="position:absolute;left:1074px;top:455px;width:1px;height:17px;background:#d9d9d9;"></div><div style="position:absolute;left:1127px;top:455px;width:1px;height:17px;background:#d9d9d9;"></div><div style="position:absolute;left:1180px;top:455px;width:1px;height:17px;background:#d9d9d9;"></div><div style="position:absolute;left:1233px;top:455px;width:1px;height:17px;background:#d9d9d9;"></div><div style="position:absolute;left:1286px;top:455px;width:1px;height:17px;background:#d9d9d9;"></div><div style="position:absolute;left:396px;top:472px;width:1px;height:17px;background:#d9d9d9;"></div><div style="position:absolute;left:448px;top:472px;width:1px;height:17px;background:#d9d9d9;"></div><div style="position:absolute;left:500px;top:472px;width:1px;height:17px;background:#d9d9d9;"></div><div style="position:absolute;left:552px;top:472px;width:1px;height:17px;background:#d9d9d9;"></div><div style="position:absolute;left:597px;top:472px;width:1px;height:17px;background:#d9d9d9;"></div><div style="position:absolute;left:649px;top:472px;width:1px;height:17px;background:#d9d9d9;"></div><div style="position:absolute;left:701px;top:472px;width:1px;height:17px;background:#d9d9d9;"></div><div style="position:absolute;left:753px;top:472px;width:1px;height:17px;background:#d9d9d9;"></div><div style="position:absolute;left:805px;top:472px;width:1px;height:17px;background:#d9d9d9;"></div><div style="position:absolute;left:841px;top:472px;width:1px;height:17px;background:#d9d9d9;"></div><div style="position:absolute;left:877px;top:472px;width:1px;height:17px;background:#d9d9d9;"></div><div style="position:absolute;left:913px;top:472px;width:1px;height:17px;background:#d9d9d9;"></div><div style="position:absolute;left:949px;top:472px;width:1px;height:17px;background:#d9d9d9;"></div><div style="position:absolute;left:985px;top:472px;width:1px;height:17px;background:#d9d9d9;"></div><div style="position:absolute;left:1021px;top:472px;width:1px;height:17px;background:#d9d9d9;"></div><div style="position:absolute;left:1074px;top:472px;width:1px;height:17px;background:#d9d9d9;"></div><div style="position:absolute;left:1127px;top:472px;width:1px;height:17px;background:#d9d9d9;"></div><div style="position:absolute;left:1180px;top:472px;width:1px;height:17px;background:#d9d9d9;"></div><div style="position:absolute;left:1233px;top:472px;width:1px;height:17px;background:#d9d9d9;"></div><div style="position:absolute;left:1286px;top:472px;width:1px;height:17px;background:#d9d9d9;"></div><div style="position:absolute;left:396px;top:489px;width:1px;height:17px;background:#d9d9d9;"></div><div style="position:absolute;left:448px;top:489px;width:1px;height:17px;background:#d9d9d9;"></div><div style="position:absolute;left:500px;top:489px;width:1px;height:17px;background:#d9d9d9;"></div><div style="position:absolute;left:552px;top:489px;width:1px;height:17px;background:#d9d9d9;"></div><div style="position:absolute;left:597px;top:489px;width:1px;height:17px;background:#d9d9d9;"></div><div style="position:absolute;left:649px;top:489px;width:1px;height:17px;background:#d9d9d9;"></div><div style="position:absolute;left:701px;top:489px;width:1px;height:17px;background:#d9d9d9;"></div><div style="position:absolute;left:753px;top:489px;width:1px;height:17px;background:#d9d9d9;"></div><div style="position:absolute;left:805px;top:489px;width:1px;height:17px;background:#d9d9d9;"></div><div style="position:absolute;left:841px;top:489px;width:1px;height:17px;background:#d9d9d9;"></div><div style="position:absolute;left:877px;top:489px;width:1px;height:17px;background:#d9d9d9;"></div><div style="position:absolute;left:913px;top:489px;width:1px;height:17px;background:#d9d9d9;"></div><div style="position:absolute;left:949px;top:489px;width:1px;height:17px;background:#d9d9d9;"></div><div style="position:absolute;left:985px;top:489px;width:1px;height:17px;background:#d9d9d9;"></div><div style="position:absolute;left:1021px;top:489px;width:1px;height:17px;background:#d9d9d9;"></div><div style="position:absolute;left:1074px;top:489px;width:1px;height:17px;background:#d9d9d9;"></div><div style="position:absolute;left:1127px;top:489px;width:1px;height:17px;background:#d9d9d9;"></div><div style="position:absolute;left:1180px;top:489px;width:1px;height:17px;background:#d9d9d9;"></div><div style="position:absolute;left:1233px;top:489px;width:1px;height:17px;background:#d9d9d9;"></div><div style="position:absolute;left:1286px;top:489px;width:1px;height:17px;background:#d9d9d9;"></div><div style="position:absolute;left:396px;top:506px;width:1px;height:17px;background:#d9d9d9;"></div><div style="position:absolute;left:448px;top:506px;width:1px;height:17px;background:#d9d9d9;"></div><div style="position:absolute;left:500px;top:506px;width:1px;height:17px;background:#d9d9d9;"></div><div style="position:absolute;left:552px;top:506px;width:1px;height:17px;background:#d9d9d9;"></div><div style="position:absolute;left:597px;top:506px;width:1px;height:17px;background:#d9d9d9;"></div><div style="position:absolute;left:649px;top:506px;width:1px;height:17px;background:#d9d9d9;"></div><div style="position:absolute;left:701px;top:506px;width:1px;height:17px;background:#d9d9d9;"></div><div style="position:absolute;left:753px;top:506px;width:1px;height:17px;background:#d9d9d9;"></div><div style="position:absolute;left:805px;top:506px;width:1px;height:17px;background:#d9d9d9;"></div><div style="position:absolute;left:841px;top:506px;width:1px;height:17px;background:#d9d9d9;"></div><div style="position:absolute;left:877px;top:506px;width:1px;height:17px;background:#d9d9d9;"></div><div style="position:absolute;left:913px;top:506px;width:1px;height:17px;background:#d9d9d9;"></div><div style="position:absolute;left:949px;top:506px;width:1px;height:17px;background:#d9d9d9;"></div><div style="position:absolute;left:985px;top:506px;width:1px;height:17px;background:#d9d9d9;"></div><div style="position:absolute;left:1021px;top:506px;width:1px;height:17px;background:#d9d9d9;"></div><div style="position:absolute;left:1074px;top:506px;width:1px;height:17px;background:#d9d9d9;"></div><div style="position:absolute;left:1127px;top:506px;width:1px;height:17px;background:#d9d9d9;"></div><div style="position:absolute;left:1180px;top:506px;width:1px;height:17px;background:#d9d9d9;"></div><div style="position:absolute;left:1233px;top:506px;width:1px;height:17px;background:#d9d9d9;"></div><div style="position:absolute;left:1286px;top:506px;width:1px;height:17px;background:#d9d9d9;"></div><div style="position:absolute;left:396px;top:523px;width:1px;height:17px;background:#d9d9d9;"></div><div style="position:absolute;left:448px;top:523px;width:1px;height:17px;background:#d9d9d9;"></div><div style="position:absolute;left:500px;top:523px;width:1px;height:17px;background:#d9d9d9;"></div><div style="position:absolute;left:552px;top:523px;width:1px;height:17px;background:#d9d9d9;"></div><div style="position:absolute;left:597px;top:523px;width:1px;height:17px;background:#d9d9d9;"></div><div style="position:absolute;left:649px;top:523px;width:1px;height:17px;background:#d9d9d9;"></div><div style="position:absolute;left:701px;top:523px;width:1px;height:17px;background:#d9d9d9;"></div><div style="position:absolute;left:753px;top:523px;width:1px;height:17px;background:#d9d9d9;"></div><div style="position:absolute;left:805px;top:523px;width:1px;height:17px;background:#d9d9d9;"></div><div style="position:absolute;left:841px;top:523px;width:1px;height:17px;background:#d9d9d9;"></div><div style="position:absolute;left:877px;top:523px;width:1px;height:17px;background:#d9d9d9;"></div><div style="position:absolute;left:913px;top:523px;width:1px;height:17px;background:#d9d9d9;"></div><div style="position:absolute;left:949px;top:523px;width:1px;height:17px;background:#d9d9d9;"></div><div style="position:absolute;left:985px;top:523px;width:1px;height:17px;background:#d9d9d9;"></div><div style="position:absolute;left:1021px;top:523px;width:1px;height:17px;background:#d9d9d9;"></div><div style="position:absolute;left:1074px;top:523px;width:1px;height:17px;background:#d9d9d9;"></div><div style="position:absolute;left:1127px;top:523px;width:1px;height:17px;background:#d9d9d9;"></div><div style="position:absolute;left:1180px;top:523px;width:1px;height:17px;background:#d9d9d9;"></div><div style="position:absolute;left:1233px;top:523px;width:1px;height:17px;background:#d9d9d9;"></div><div style="position:absolute;left:1286px;top:523px;width:1px;height:17px;background:#d9d9d9;"></div><div style="position:absolute;left:396px;top:540px;width:1px;height:17px;background:#d9d9d9;"></div><div style="position:absolute;left:448px;top:540px;width:1px;height:17px;background:#d9d9d9;"></div><div style="position:absolute;left:500px;top:540px;width:1px;height:17px;background:#d9d9d9;"></div><div style="position:absolute;left:552px;top:540px;width:1px;height:17px;background:#d9d9d9;"></div><div style="position:absolute;left:597px;top:540px;width:1px;height:17px;background:#d9d9d9;"></div><div style="position:absolute;left:649px;top:540px;width:1px;height:17px;background:#d9d9d9;"></div><div style="position:absolute;left:701px;top:540px;width:1px;height:17px;background:#d9d9d9;"></div><div style="position:absolute;left:753px;top:540px;width:1px;height:17px;background:#d9d9d9;"></div><div style="position:absolute;left:805px;top:540px;width:1px;height:17px;background:#d9d9d9;"></div><div style="position:absolute;left:841px;top:540px;width:1px;height:17px;background:#d9d9d9;"></div><div style="position:absolute;left:877px;top:540px;width:1px;height:17px;background:#d9d9d9;"></div><div style="position:absolute;left:913px;top:540px;width:1px;height:17px;background:#d9d9d9;"></div><div style="position:absolute;left:949px;top:540px;width:1px;height:17px;background:#d9d9d9;"></div><div style="position:absolute;left:985px;top:540px;width:1px;height:17px;background:#d9d9d9;"></div><div style="position:absolute;left:1021px;top:540px;width:1px;height:17px;background:#d9d9d9;"></div><div style="position:absolute;left:1074px;top:540px;width:1px;height:17px;background:#d9d9d9;"></div><div style="position:absolute;left:1127px;top:540px;width:1px;height:17px;background:#d9d9d9;"></div><div style="position:absolute;left:1180px;top:540px;width:1px;height:17px;background:#d9d9d9;"></div><div style="position:absolute;left:1233px;top:540px;width:1px;height:17px;background:#d9d9d9;"></div><div style="position:absolute;left:1286px;top:540px;width:1px;height:17px;background:#d9d9d9;"></div><div style="position:absolute;left:396px;top:557px;width:1px;height:17px;background:#d9d9d9;"></div><div style="position:absolute;left:448px;top:557px;width:1px;height:17px;background:#d9d9d9;"></div><div style="position:absolute;left:500px;top:557px;width:1px;height:17px;background:#d9d9d9;"></div><div style="position:absolute;left:552px;top:557px;width:1px;height:17px;background:#d9d9d9;"></div><div style="position:absolute;left:597px;top:557px;width:1px;height:17px;background:#d9d9d9;"></div><div style="position:absolute;left:649px;top:557px;width:1px;height:17px;background:#d9d9d9;"></div><div style="position:absolute;left:701px;top:557px;width:1px;height:17px;background:#d9d9d9;"></div><div style="position:absolute;left:753px;top:557px;width:1px;height:17px;background:#d9d9d9;"></div><div style="position:absolute;left:805px;top:557px;width:1px;height:17px;background:#d9d9d9;"></div><div style="position:absolute;left:841px;top:557px;width:1px;height:17px;background:#d9d9d9;"></div><div style="position:absolute;left:877px;top:557px;width:1px;height:17px;background:#d9d9d9;"></div><div style="position:absolute;left:913px;top:557px;width:1px;height:17px;background:#d9d9d9;"></div><div style="position:absolute;left:949px;top:557px;width:1px;height:17px;background:#d9d9d9;"></div><div style="position:absolute;left:985px;top:557px;width:1px;height:17px;background:#d9d9d9;"></div><div style="position:absolute;left:1021px;top:557px;width:1px;height:17px;background:#d9d9d9;"></div><div style="position:absolute;left:1074px;top:557px;width:1px;height:17px;background:#d9d9d9;"></div><div style="position:absolute;left:1127px;top:557px;width:1px;height:17px;background:#d9d9d9;"></div><div style="position:absolute;left:1180px;top:557px;width:1px;height:17px;background:#d9d9d9;"></div><div style="position:absolute;left:1233px;top:557px;width:1px;height:17px;background:#d9d9d9;"></div><div style="position:absolute;left:1286px;top:557px;width:1px;height:17px;background:#d9d9d9;"></div><div style="position:absolute;left:396px;top:574px;width:1px;height:17px;background:#d9d9d9;"></div><div style="position:absolute;left:448px;top:574px;width:1px;height:17px;background:#d9d9d9;"></div><div style="position:absolute;left:500px;top:574px;width:1px;height:17px;background:#d9d9d9;"></div><div style="position:absolute;left:552px;top:574px;width:1px;height:17px;background:#d9d9d9;"></div><div style="position:absolute;left:597px;top:574px;width:1px;height:17px;background:#d9d9d9;"></div><div style="position:absolute;left:649px;top:574px;width:1px;height:17px;background:#d9d9d9;"></div><div style="position:absolute;left:701px;top:574px;width:1px;height:17px;background:#d9d9d9;"></div><div style="position:absolute;left:753px;top:574px;width:1px;height:17px;background:#d9d9d9;"></div><div style="position:absolute;left:805px;top:574px;width:1px;height:17px;background:#d9d9d9;"></div><div style="position:absolute;left:841px;top:574px;width:1px;height:17px;background:#d9d9d9;"></div><div style="position:absolute;left:877px;top:574px;width:1px;height:17px;background:#d9d9d9;"></div><div style="position:absolute;left:913px;top:574px;width:1px;height:17px;background:#d9d9d9;"></div><div style="position:absolute;left:949px;top:574px;width:1px;height:17px;background:#d9d9d9;"></div><div style="position:absolute;left:985px;top:574px;width:1px;height:17px;background:#d9d9d9;"></div><div style="position:absolute;left:1021px;top:574px;width:1px;height:17px;background:#d9d9d9;"></div><div style="position:absolute;left:1074px;top:574px;width:1px;height:17px;background:#d9d9d9;"></div><div style="position:absolute;left:1127px;top:574px;width:1px;height:17px;background:#d9d9d9;"></div><div style="position:absolute;left:1180px;top:574px;width:1px;height:17px;background:#d9d9d9;"></div><div style="position:absolute;left:1233px;top:574px;width:1px;height:17px;background:#d9d9d9;"></div><div style="position:absolute;left:1286px;top:574px;width:1px;height:17px;background:#d9d9d9;"></div><div style="position:absolute;left:396px;top:591px;width:1px;height:17px;background:#d9d9d9;"></div><div style="position:absolute;left:448px;top:591px;width:1px;height:17px;background:#d9d9d9;"></div><div style="position:absolute;left:500px;top:591px;width:1px;height:17px;background:#d9d9d9;"></div><div style="position:absolute;left:552px;top:591px;width:1px;height:17px;background:#d9d9d9;"></div><div style="position:absolute;left:597px;top:591px;width:1px;height:17px;background:#d9d9d9;"></div><div style="position:absolute;left:649px;top:591px;width:1px;height:17px;background:#d9d9d9;"></div><div style="position:absolute;left:701px;top:591px;width:1px;height:17px;background:#d9d9d9;"></div><div style="position:absolute;left:753px;top:591px;width:1px;height:17px;background:#d9d9d9;"></div><div style="position:absolute;left:805px;top:591px;width:1px;height:17px;background:#d9d9d9;"></div><div style="position:absolute;left:841px;top:591px;width:1px;height:17px;background:#d9d9d9;"></div><div style="position:absolute;left:877px;top:591px;width:1px;height:17px;background:#d9d9d9;"></div><div style="position:absolute;left:913px;top:591px;width:1px;height:17px;background:#d9d9d9;"></div><div style="position:absolute;left:949px;top:591px;width:1px;height:17px;background:#d9d9d9;"></div><div style="position:absolute;left:985px;top:591px;width:1px;height:17px;background:#d9d9d9;"></div><div style="position:absolute;left:1021px;top:591px;width:1px;height:17px;background:#d9d9d9;"></div><div style="position:absolute;left:1074px;top:591px;width:1px;height:17px;background:#d9d9d9;"></div><div style="position:absolute;left:1127px;top:591px;width:1px;height:17px;background:#d9d9d9;"></div><div style="position:absolute;left:1180px;top:591px;width:1px;height:17px;background:#d9d9d9;"></div><div style="position:absolute;left:1233px;top:591px;width:1px;height:17px;background:#d9d9d9;"></div><div style="position:absolute;left:1286px;top:591px;width:1px;height:17px;background:#d9d9d9;"></div><div style="position:absolute;left:1022px;top:193px;width:317px;height:21px;background:#dcfbfd;"></div><div style="position:absolute;left:347.00px;top:146.02px;font:bold 12.5px/12.5px 'Liberation Sans', sans-serif;color:#000;white-space:pre;transform:scaleX(0.9550);transform-origin:0 0;">Column Flexural Strength Check</div><div style="position:absolute;left:1024.00px;top:147.12px;font:normal 11.2px/11.2px 'Liberation Sans', sans-serif;color:#000;white-space:pre;transform:scaleX(1.0650);transform-origin:0 0;">Strength Resistance</div><div style="position:absolute;left:347.00px;top:164.12px;font:normal 11.2px/11.2px 'Liberation Sans', sans-serif;color:#000;white-space:pre;transform:scaleX(1.0650);transform-origin:0 0;">Bent Name:</div><div style="position:absolute;left:451.00px;top:164.12px;font:normal 11.2px/11.2px 'Liberation Sans', sans-serif;color:#000;white-space:pre;transform:scaleX(1.0650);transform-origin:0 0;">Bent at End of Span 2</div><div style="position:absolute;left:640.28px;top:164.12px;font:normal 11.2px/11.2px 'Liberation Sans', sans-serif;color:#000;white-space:pre;transform:scaleX(1.0650);transform-origin:0 0;">Resistance Property:</div><div style="position:absolute;left:756.00px;top:164.12px;font:normal 11.2px/11.2px 'Liberation Sans', sans-serif;color:#000;white-space:pre;transform:scaleX(1.0650);transform-origin:0 0;">Column_Analysis</div><div style="position:absolute;left:1024.00px;top:164.12px;font:normal 11.2px/11.2px 'Liberation Sans', sans-serif;color:#000;white-space:pre;transform:scaleX(1.0650);transform-origin:0 0;">Factored Resistance, Property: Column_Analysis</div><div style="position:absolute;left:347.00px;top:181.12px;font:normal 11.2px/11.2px 'Liberation Sans', sans-serif;color:#000;white-space:pre;transform:scaleX(1.0650);transform-origin:0 0;">Columns Checked:</div><div style="position:absolute;left:451.00px;top:181.03px;font:normal 11.3px/11.3px 'Liberation Sans', sans-serif;color:#000;white-space:pre;transform:scaleX(0.9650);transform-origin:0 0;">1, 2</div><div style="position:absolute;left:653.55px;top:181.12px;font:normal 11.2px/11.2px 'Liberation Sans', sans-serif;color:#000;white-space:pre;transform:scaleX(1.0650);transform-origin:0 0;">Concrete Material:</div><div style="position:absolute;left:756.00px;top:181.12px;font:normal 11.2px/11.2px 'Liberation Sans', sans-serif;color:#000;white-space:pre;transform:scaleX(1.0650);transform-origin:0 0;">4000Psi</div><div style="position:absolute;left:1024.00px;top:181.12px;font:normal 11.2px/11.2px 'Liberation Sans', sans-serif;color:#000;white-space:pre;transform:scaleX(1.0650);transform-origin:0 0;">Controlling Biaxial</div><div style="position:absolute;left:1194.24px;top:181.12px;font:normal 11.2px/11.2px 'Liberation Sans', sans-serif;color:#000;white-space:pre;transform:scaleX(1.0650);transform-origin:0 0;">Uniaxial Flexure</div><div style="position:absolute;left:347.00px;top:201.12px;font:normal 11.2px/11.2px 'Liberation Sans', sans-serif;color:#000;white-space:pre;transform:scaleX(1.0650);transform-origin:0 0;">Frames Checked:</div><div style="position:absolute;left:451.00px;top:201.03px;font:normal 11.3px/11.3px 'Liberation Sans', sans-serif;color:#000;white-space:pre;transform:scaleX(0.9650);transform-origin:0 0;">348, 349</div><div style="position:absolute;left:756.00px;top:201.03px;font:normal 11.3px/11.3px 'Liberation Sans', sans-serif;color:#000;white-space:pre;transform:scaleX(0.9650);transform-origin:0 0;">12</div><div style="position:absolute;left:347.00px;top:218.12px;font:normal 11.2px/11.2px 'Liberation Sans', sans-serif;color:#000;white-space:pre;transform:scaleX(1.0650);transform-origin:0 0;">Stations Checked:</div><div style="position:absolute;left:451.00px;top:218.03px;font:normal 11.3px/11.3px 'Liberation Sans', sans-serif;color:#000;white-space:pre;transform:scaleX(0.9650);transform-origin:0 0;">1</div><div style="position:absolute;left:669.46px;top:218.12px;font:normal 11.2px/11.2px 'Liberation Sans', sans-serif;color:#000;white-space:pre;transform:scaleX(1.0650);transform-origin:0 0;">Rebar Material:</div><div style="position:absolute;left:756.00px;top:218.12px;font:normal 11.2px/11.2px 'Liberation Sans', sans-serif;color:#000;white-space:pre;transform:scaleX(1.0650);transform-origin:0 0;">A615Gr60</div><div style="position:absolute;left:347.00px;top:238.12px;font:normal 11.2px/11.2px 'Liberation Sans', sans-serif;color:#000;white-space:pre;transform:scaleX(1.0650);transform-origin:0 0;">Demand Combos:</div><div style="position:absolute;left:451.00px;top:238.12px;font:normal 11.2px/11.2px 'Liberation Sans', sans-serif;color:#000;white-space:pre;transform:scaleX(1.0650);transform-origin:0 0;">a- Strength 1</div><div style="position:absolute;left:756.00px;top:238.03px;font:normal 11.3px/11.3px 'Liberation Sans', sans-serif;color:#000;white-space:pre;transform:scaleX(0.9650);transform-origin:0 0;">18.72</div><div style="position:absolute;left:622.38px;top:255.12px;font:normal 11.2px/11.2px 'Liberation Sans', sans-serif;color:#000;white-space:pre;transform:scaleX(1.0650);transform-origin:0 0;">Provided rebar ratio [%]:</div><div style="position:absolute;left:756.00px;top:255.03px;font:normal 11.3px/11.3px 'Liberation Sans', sans-serif;color:#000;white-space:pre;transform:scaleX(0.9650);transform-origin:0 0;">1.083</div><div style="position:absolute;left:634.06px;top:201.12px;font:normal 11.2px/11.2px 'Liberation Sans', sans-serif;color:#000;white-space:pre;transform:scaleX(1.0650);transform-origin:0 0;">Concrete Area Ac [ft</div><div style="position:absolute;left:740.15px;top:198.83px;font:normal 8px/8px 'Liberation Sans', sans-serif;color:#000;white-space:pre;transform:scaleX(0.9500);transform-origin:0 0;">2</div><div style="position:absolute;left:744.37px;top:201.12px;font:normal 11.2px/11.2px 'Liberation Sans', sans-serif;color:#000;white-space:pre;transform:scaleX(1.0650);transform-origin:0 0;">]:</div><div style="position:absolute;left:594.27px;top:238.12px;font:normal 11.2px/11.2px 'Liberation Sans', sans-serif;color:#000;white-space:pre;transform:scaleX(1.0650);transform-origin:0 0;">Provided Rebar Area Asl [in</div><div style="position:absolute;left:740.15px;top:235.83px;font:normal 8px/8px 'Liberation Sans', sans-serif;color:#000;white-space:pre;transform:scaleX(0.9500);transform-origin:0 0;">2</div><div style="position:absolute;left:744.37px;top:238.12px;font:normal 11.2px/11.2px 'Liberation Sans', sans-serif;color:#000;white-space:pre;transform:scaleX(1.0650);transform-origin:0 0;">]:</div><div style="position:absolute;left:1038.95px;top:201.12px;font:bold 11.2px/11.2px 'Liberation Sans', sans-serif;color:#000;white-space:pre;transform:scaleX(0.9100);transform-origin:0 0;">Pr23</div><div style="position:absolute;left:1091.10px;top:201.12px;font:bold 11.2px/11.2px 'Liberation Sans', sans-serif;color:#000;white-space:pre;transform:scaleX(0.9100);transform-origin:0 0;">Mr23</div><div style="position:absolute;left:1144.95px;top:201.12px;font:bold 11.2px/11.2px 'Liberation Sans', sans-serif;color:#000;white-space:pre;transform:scaleX(0.9100);transform-origin:0 0;">Pr22</div><div style="position:absolute;left:1197.10px;top:201.12px;font:bold 11.2px/11.2px 'Liberation Sans', sans-serif;color:#000;white-space:pre;transform:scaleX(0.9100);transform-origin:0 0;">Mr22</div><div style="position:absolute;left:1250.95px;top:201.12px;font:bold 11.2px/11.2px 'Liberation Sans', sans-serif;color:#000;white-space:pre;transform:scaleX(0.9100);transform-origin:0 0;">Pr33</div><div style="position:absolute;left:1303.10px;top:201.12px;font:bold 11.2px/11.2px 'Liberation Sans', sans-serif;color:#000;white-space:pre;transform:scaleX(0.9100);transform-origin:0 0;">Mr33</div><div style="position:absolute;left:1034.05px;top:218.03px;font:normal 11.3px/11.3px 'Liberation Sans', sans-serif;color:#000;white-space:pre;transform:scaleX(0.9650);transform-origin:0 0;">-4161</div><div style="position:absolute;left:1097.97px;top:218.03px;font:normal 11.3px/11.3px 'Liberation Sans', sans-serif;color:#000;white-space:pre;transform:scaleX(0.9650);transform-origin:0 0;">0</div><div style="position:absolute;left:1140.05px;top:218.03px;font:normal 11.3px/11.3px 'Liberation Sans', sans-serif;color:#000;white-space:pre;transform:scaleX(0.9650);transform-origin:0 0;">-3606</div><div style="position:absolute;left:1203.97px;top:218.03px;font:normal 11.3px/11.3px 'Liberation Sans', sans-serif;color:#000;white-space:pre;transform:scaleX(0.9650);transform-origin:0 0;">0</div><div style="position:absolute;left:1246.05px;top:218.03px;font:normal 11.3px/11.3px 'Liberation Sans', sans-serif;color:#000;white-space:pre;transform:scaleX(0.9650);transform-origin:0 0;">-3606</div><div style="position:absolute;left:1309.97px;top:218.03px;font:normal 11.3px/11.3px 'Liberation Sans', sans-serif;color:#000;white-space:pre;transform:scaleX(0.9650);transform-origin:0 0;">0</div><div style="position:absolute;left:1034.05px;top:238.03px;font:normal 11.3px/11.3px 'Liberation Sans', sans-serif;color:#000;white-space:pre;transform:scaleX(0.9650);transform-origin:0 0;">-4161</div><div style="position:absolute;left:1088.87px;top:238.03px;font:normal 11.3px/11.3px 'Liberation Sans', sans-serif;color:#000;white-space:pre;transform:scaleX(0.9650);transform-origin:0 0;">1243</div><div style="position:absolute;left:1140.05px;top:238.03px;font:normal 11.3px/11.3px 'Liberation Sans', sans-serif;color:#000;white-space:pre;transform:scaleX(0.9650);transform-origin:0 0;">-3606</div><div style="position:absolute;left:1197.90px;top:238.03px;font:normal 11.3px/11.3px 'Liberation Sans', sans-serif;color:#000;white-space:pre;transform:scaleX(0.9650);transform-origin:0 0;">794</div><div style="position:absolute;left:1246.05px;top:238.03px;font:normal 11.3px/11.3px 'Liberation Sans', sans-serif;color:#000;white-space:pre;transform:scaleX(0.9650);transform-origin:0 0;">-3606</div><div style="position:absolute;left:1300.87px;top:238.03px;font:normal 11.3px/11.3px 'Liberation Sans', sans-serif;color:#000;white-space:pre;transform:scaleX(0.9650);transform-origin:0 0;">1077</div><div style="position:absolute;left:1034.05px;top:255.03px;font:normal 11.3px/11.3px 'Liberation Sans', sans-serif;color:#000;white-space:pre;transform:scaleX(0.9650);transform-origin:0 0;">-3902</div><div style="position:absolute;left:1088.87px;top:255.03px;font:normal 11.3px/11.3px 'Liberation Sans', sans-serif;color:#000;white-space:pre;transform:scaleX(0.9650);transform-origin:0 0;">1969</div><div style="position:absolute;left:1140.05px;top:255.03px;font:normal 11.3px/11.3px 'Liberation Sans', sans-serif;color:#000;white-space:pre;transform:scaleX(0.9650);transform-origin:0 0;">-3369</div><div style="position:absolute;left:1194.87px;top:255.03px;font:normal 11.3px/11.3px 'Liberation Sans', sans-serif;color:#000;white-space:pre;transform:scaleX(0.9650);transform-origin:0 0;">1268</div><div style="position:absolute;left:1246.05px;top:255.03px;font:normal 11.3px/11.3px 'Liberation Sans', sans-serif;color:#000;white-space:pre;transform:scaleX(0.9650);transform-origin:0 0;">-3381</div><div style="position:absolute;left:1300.87px;top:255.03px;font:normal 11.3px/11.3px 'Liberation Sans', sans-serif;color:#000;white-space:pre;transform:scaleX(0.9650);transform-origin:0 0;">1707</div><div style="position:absolute;left:1034.05px;top:272.03px;font:normal 11.3px/11.3px 'Liberation Sans', sans-serif;color:#000;white-space:pre;transform:scaleX(0.9650);transform-origin:0 0;">-3333</div><div style="position:absolute;left:1088.87px;top:272.03px;font:normal 11.3px/11.3px 'Liberation Sans', sans-serif;color:#000;white-space:pre;transform:scaleX(0.9650);transform-origin:0 0;">2523</div><div style="position:absolute;left:1140.05px;top:272.03px;font:normal 11.3px/11.3px 'Liberation Sans', sans-serif;color:#000;white-space:pre;transform:scaleX(0.9650);transform-origin:0 0;">-2865</div><div style="position:absolute;left:1194.87px;top:272.03px;font:normal 11.3px/11.3px 'Liberation Sans', sans-serif;color:#000;white-space:pre;transform:scaleX(0.9650);transform-origin:0 0;">1624</div><div style="position:absolute;left:1246.05px;top:272.03px;font:normal 11.3px/11.3px 'Liberation Sans', sans-serif;color:#000;white-space:pre;transform:scaleX(0.9650);transform-origin:0 0;">-2889</div><div style="position:absolute;left:1300.87px;top:272.03px;font:normal 11.3px/11.3px 'Liberation Sans', sans-serif;color:#000;white-space:pre;transform:scaleX(0.9650);transform-origin:0 0;">2187</div><div style="position:absolute;left:1034.05px;top:289.03px;font:normal 11.3px/11.3px 'Liberation Sans', sans-serif;color:#000;white-space:pre;transform:scaleX(0.9650);transform-origin:0 0;">-2736</div><div style="position:absolute;left:1088.87px;top:289.03px;font:normal 11.3px/11.3px 'Liberation Sans', sans-serif;color:#000;white-space:pre;transform:scaleX(0.9650);transform-origin:0 0;">2915</div><div style="position:absolute;left:1140.05px;top:289.03px;font:normal 11.3px/11.3px 'Liberation Sans', sans-serif;color:#000;white-space:pre;transform:scaleX(0.9650);transform-origin:0 0;">-2334</div><div style="position:absolute;left:1194.87px;top:289.03px;font:normal 11.3px/11.3px 'Liberation Sans', sans-serif;color:#000;white-space:pre;transform:scaleX(0.9650);transform-origin:0 0;">1868</div><div style="position:absolute;left:1246.05px;top:289.03px;font:normal 11.3px/11.3px 'Liberation Sans', sans-serif;color:#000;white-space:pre;transform:scaleX(0.9650);transform-origin:0 0;">-2371</div><div style="position:absolute;left:1300.87px;top:289.03px;font:normal 11.3px/11.3px 'Liberation Sans', sans-serif;color:#000;white-space:pre;transform:scaleX(0.9650);transform-origin:0 0;">2526</div><div style="position:absolute;left:1034.05px;top:306.03px;font:normal 11.3px/11.3px 'Liberation Sans', sans-serif;color:#000;white-space:pre;transform:scaleX(0.9650);transform-origin:0 0;">-2069</div><div style="position:absolute;left:1088.87px;top:306.03px;font:normal 11.3px/11.3px 'Liberation Sans', sans-serif;color:#000;white-space:pre;transform:scaleX(0.9650);transform-origin:0 0;">3182</div><div style="position:absolute;left:1140.05px;top:306.03px;font:normal 11.3px/11.3px 'Liberation Sans', sans-serif;color:#000;white-space:pre;transform:scaleX(0.9650);transform-origin:0 0;">-1738</div><div style="position:absolute;left:1194.87px;top:306.03px;font:normal 11.3px/11.3px 'Liberation Sans', sans-serif;color:#000;white-space:pre;transform:scaleX(0.9650);transform-origin:0 0;">2026</div><div style="position:absolute;left:1246.05px;top:306.03px;font:normal 11.3px/11.3px 'Liberation Sans', sans-serif;color:#000;white-space:pre;transform:scaleX(0.9650);transform-origin:0 0;">-1793</div><div style="position:absolute;left:1300.87px;top:306.03px;font:normal 11.3px/11.3px 'Liberation Sans', sans-serif;color:#000;white-space:pre;transform:scaleX(0.9650);transform-origin:0 0;">2758</div><div style="position:absolute;left:1034.05px;top:323.03px;font:normal 11.3px/11.3px 'Liberation Sans', sans-serif;color:#000;white-space:pre;transform:scaleX(0.9650);transform-origin:0 0;">-1565</div><div style="position:absolute;left:1088.87px;top:323.03px;font:normal 11.3px/11.3px 'Liberation Sans', sans-serif;color:#000;white-space:pre;transform:scaleX(0.9650);transform-origin:0 0;">3066</div><div style="position:absolute;left:1140.05px;top:323.03px;font:normal 11.3px/11.3px 'Liberation Sans', sans-serif;color:#000;white-space:pre;transform:scaleX(0.9650);transform-origin:0 0;">-1534</div><div style="position:absolute;left:1194.87px;top:323.03px;font:normal 11.3px/11.3px 'Liberation Sans', sans-serif;color:#000;white-space:pre;transform:scaleX(0.9650);transform-origin:0 0;">2266</div><div style="position:absolute;left:1246.05px;top:323.03px;font:normal 11.3px/11.3px 'Liberation Sans', sans-serif;color:#000;white-space:pre;transform:scaleX(0.9650);transform-origin:0 0;">-1582</div><div style="position:absolute;left:1300.87px;top:323.03px;font:normal 11.3px/11.3px 'Liberation Sans', sans-serif;color:#000;white-space:pre;transform:scaleX(0.9650);transform-origin:0 0;">3099</div><div style="position:absolute;left:1034.46px;top:340.03px;font:normal 11.3px/11.3px 'Liberation Sans', sans-serif;color:#000;white-space:pre;transform:scaleX(0.9650);transform-origin:0 0;">-1137</div><div style="position:absolute;left:1088.87px;top:340.03px;font:normal 11.3px/11.3px 'Liberation Sans', sans-serif;color:#000;white-space:pre;transform:scaleX(0.9650);transform-origin:0 0;">2981</div><div style="position:absolute;left:1140.05px;top:340.03px;font:normal 11.3px/11.3px 'Liberation Sans', sans-serif;color:#000;white-space:pre;transform:scaleX(0.9650);transform-origin:0 0;">-1220</div><div style="position:absolute;left:1194.87px;top:340.03px;font:normal 11.3px/11.3px 'Liberation Sans', sans-serif;color:#000;white-space:pre;transform:scaleX(0.9650);transform-origin:0 0;">2420</div><div style="position:absolute;left:1246.05px;top:340.03px;font:normal 11.3px/11.3px 'Liberation Sans', sans-serif;color:#000;white-space:pre;transform:scaleX(0.9650);transform-origin:0 0;">-1272</div><div style="position:absolute;left:1300.87px;top:340.03px;font:normal 11.3px/11.3px 'Liberation Sans', sans-serif;color:#000;white-space:pre;transform:scaleX(0.9650);transform-origin:0 0;">3336</div><div style="position:absolute;left:1037.09px;top:357.03px;font:normal 11.3px/11.3px 'Liberation Sans', sans-serif;color:#000;white-space:pre;transform:scaleX(0.9650);transform-origin:0 0;">-637</div><div style="position:absolute;left:1088.87px;top:357.03px;font:normal 11.3px/11.3px 'Liberation Sans', sans-serif;color:#000;white-space:pre;transform:scaleX(0.9650);transform-origin:0 0;">2718</div><div style="position:absolute;left:1143.09px;top:357.03px;font:normal 11.3px/11.3px 'Liberation Sans', sans-serif;color:#000;white-space:pre;transform:scaleX(0.9650);transform-origin:0 0;">-536</div><div style="position:absolute;left:1194.87px;top:357.03px;font:normal 11.3px/11.3px 'Liberation Sans', sans-serif;color:#000;white-space:pre;transform:scaleX(0.9650);transform-origin:0 0;">1889</div><div style="position:absolute;left:1249.09px;top:357.03px;font:normal 11.3px/11.3px 'Liberation Sans', sans-serif;color:#000;white-space:pre;transform:scaleX(0.9650);transform-origin:0 0;">-637</div><div style="position:absolute;left:1300.87px;top:357.03px;font:normal 11.3px/11.3px 'Liberation Sans', sans-serif;color:#000;white-space:pre;transform:scaleX(0.9650);transform-origin:0 0;">2718</div><div style="position:absolute;left:1041.94px;top:374.03px;font:normal 11.3px/11.3px 'Liberation Sans', sans-serif;color:#000;white-space:pre;transform:scaleX(0.9650);transform-origin:0 0;">33</div><div style="position:absolute;left:1088.87px;top:374.03px;font:normal 11.3px/11.3px 'Liberation Sans', sans-serif;color:#000;white-space:pre;transform:scaleX(0.9650);transform-origin:0 0;">1723</div><div style="position:absolute;left:1144.90px;top:374.03px;font:normal 11.3px/11.3px 'Liberation Sans', sans-serif;color:#000;white-space:pre;transform:scaleX(0.9650);transform-origin:0 0;">146</div><div style="position:absolute;left:1195.28px;top:374.03px;font:normal 11.3px/11.3px 'Liberation Sans', sans-serif;color:#000;white-space:pre;transform:scaleX(0.9650);transform-origin:0 0;">1121</div><div style="position:absolute;left:1253.94px;top:374.03px;font:normal 11.3px/11.3px 'Liberation Sans', sans-serif;color:#000;white-space:pre;transform:scaleX(0.9650);transform-origin:0 0;">33</div><div style="position:absolute;left:1300.87px;top:374.03px;font:normal 11.3px/11.3px 'Liberation Sans', sans-serif;color:#000;white-space:pre;transform:scaleX(0.9650);transform-origin:0 0;">1723</div><div style="position:absolute;left:1036.28px;top:391.03px;font:normal 11.3px/11.3px 'Liberation Sans', sans-serif;color:#000;white-space:pre;transform:scaleX(0.9650);transform-origin:0 0;">1011</div><div style="position:absolute;left:1097.97px;top:391.03px;font:normal 11.3px/11.3px 'Liberation Sans', sans-serif;color:#000;white-space:pre;transform:scaleX(0.9650);transform-origin:0 0;">0</div><div style="position:absolute;left:1142.28px;top:391.03px;font:normal 11.3px/11.3px 'Liberation Sans', sans-serif;color:#000;white-space:pre;transform:scaleX(0.9650);transform-origin:0 0;">1011</div><div style="position:absolute;left:1203.97px;top:391.03px;font:normal 11.3px/11.3px 'Liberation Sans', sans-serif;color:#000;white-space:pre;transform:scaleX(0.9650);transform-origin:0 0;">0</div><div style="position:absolute;left:1248.28px;top:391.03px;font:normal 11.3px/11.3px 'Liberation Sans', sans-serif;color:#000;white-space:pre;transform:scaleX(0.9650);transform-origin:0 0;">1011</div><div style="position:absolute;left:1309.97px;top:391.03px;font:normal 11.3px/11.3px 'Liberation Sans', sans-serif;color:#000;white-space:pre;transform:scaleX(0.9650);transform-origin:0 0;">0</div><div style="position:absolute;left:1142.28px;top:408.03px;font:normal 11.3px/11.3px 'Liberation Sans', sans-serif;color:#000;white-space:pre;transform:scaleX(0.9650);transform-origin:0 0;">1011</div><div style="position:absolute;left:1203.97px;top:408.03px;font:normal 11.3px/11.3px 'Liberation Sans', sans-serif;color:#000;white-space:pre;transform:scaleX(0.9650);transform-origin:0 0;">0</div><div style="position:absolute;left:1248.28px;top:408.03px;font:normal 11.3px/11.3px 'Liberation Sans', sans-serif;color:#000;white-space:pre;transform:scaleX(0.9650);transform-origin:0 0;">1011</div><div style="position:absolute;left:1309.97px;top:408.03px;font:normal 11.3px/11.3px 'Liberation Sans', sans-serif;color:#000;white-space:pre;transform:scaleX(0.9650);transform-origin:0 0;">0</div><div style="position:absolute;left:1144.90px;top:425.03px;font:normal 11.3px/11.3px 'Liberation Sans', sans-serif;color:#000;white-space:pre;transform:scaleX(0.9650);transform-origin:0 0;">146</div><div style="position:absolute;left:1193.46px;top:425.03px;font:normal 11.3px/11.3px 'Liberation Sans', sans-serif;color:#000;white-space:pre;transform:scaleX(0.9650);transform-origin:0 0;">-1121</div><div style="position:absolute;left:1253.94px;top:425.03px;font:normal 11.3px/11.3px 'Liberation Sans', sans-serif;color:#000;white-space:pre;transform:scaleX(0.9650);transform-origin:0 0;">33</div><div style="position:absolute;left:1299.05px;top:425.03px;font:normal 11.3px/11.3px 'Liberation Sans', sans-serif;color:#000;white-space:pre;transform:scaleX(0.9650);transform-origin:0 0;">-1723</div><div style="position:absolute;left:1143.09px;top:442.03px;font:normal 11.3px/11.3px 'Liberation Sans', sans-serif;color:#000;white-space:pre;transform:scaleX(0.9650);transform-origin:0 0;">-536</div><div style="position:absolute;left:1193.05px;top:442.03px;font:normal 11.3px/11.3px 'Liberation Sans', sans-serif;color:#000;white-space:pre;transform:scaleX(0.9650);transform-origin:0 0;">-1889</div><div style="position:absolute;left:1249.09px;top:442.03px;font:normal 11.3px/11.3px 'Liberation Sans', sans-serif;color:#000;white-space:pre;transform:scaleX(0.9650);transform-origin:0 0;">-637</div><div style="position:absolute;left:1299.05px;top:442.03px;font:normal 11.3px/11.3px 'Liberation Sans', sans-serif;color:#000;white-space:pre;transform:scaleX(0.9650);transform-origin:0 0;">-2718</div><div style="position:absolute;left:1140.05px;top:459.03px;font:normal 11.3px/11.3px 'Liberation Sans', sans-serif;color:#000;white-space:pre;transform:scaleX(0.9650);transform-origin:0 0;">-1220</div><div style="position:absolute;left:1193.05px;top:459.03px;font:normal 11.3px/11.3px 'Liberation Sans', sans-serif;color:#000;white-space:pre;transform:scaleX(0.9650);transform-origin:0 0;">-2420</div><div style="position:absolute;left:1246.05px;top:459.03px;font:normal 11.3px/11.3px 'Liberation Sans', sans-serif;color:#000;white-space:pre;transform:scaleX(0.9650);transform-origin:0 0;">-1272</div><div style="position:absolute;left:1299.05px;top:459.03px;font:normal 11.3px/11.3px 'Liberation Sans', sans-serif;color:#000;white-space:pre;transform:scaleX(0.9650);transform-origin:0 0;">-3336</div><div style="position:absolute;left:1140.05px;top:476.03px;font:normal 11.3px/11.3px 'Liberation Sans', sans-serif;color:#000;white-space:pre;transform:scaleX(0.9650);transform-origin:0 0;">-1534</div><div style="position:absolute;left:1193.05px;top:476.03px;font:normal 11.3px/11.3px 'Liberation Sans', sans-serif;color:#000;white-space:pre;transform:scaleX(0.9650);transform-origin:0 0;">-2266</div><div style="position:absolute;left:1246.05px;top:476.03px;font:normal 11.3px/11.3px 'Liberation Sans', sans-serif;color:#000;white-space:pre;transform:scaleX(0.9650);transform-origin:0 0;">-1582</div><div style="position:absolute;left:1299.05px;top:476.03px;font:normal 11.3px/11.3px 'Liberation Sans', sans-serif;color:#000;white-space:pre;transform:scaleX(0.9650);transform-origin:0 0;">-3099</div><div style="position:absolute;left:1140.05px;top:493.03px;font:normal 11.3px/11.3px 'Liberation Sans', sans-serif;color:#000;white-space:pre;transform:scaleX(0.9650);transform-origin:0 0;">-1738</div><div style="position:absolute;left:1193.05px;top:493.03px;font:normal 11.3px/11.3px 'Liberation Sans', sans-serif;color:#000;white-space:pre;transform:scaleX(0.9650);transform-origin:0 0;">-2026</div><div style="position:absolute;left:1246.05px;top:493.03px;font:normal 11.3px/11.3px 'Liberation Sans', sans-serif;color:#000;white-space:pre;transform:scaleX(0.9650);transform-origin:0 0;">-1793</div><div style="position:absolute;left:1299.05px;top:493.03px;font:normal 11.3px/11.3px 'Liberation Sans', sans-serif;color:#000;white-space:pre;transform:scaleX(0.9650);transform-origin:0 0;">-2758</div><div style="position:absolute;left:1140.05px;top:510.03px;font:normal 11.3px/11.3px 'Liberation Sans', sans-serif;color:#000;white-space:pre;transform:scaleX(0.9650);transform-origin:0 0;">-2334</div><div style="position:absolute;left:1193.05px;top:510.03px;font:normal 11.3px/11.3px 'Liberation Sans', sans-serif;color:#000;white-space:pre;transform:scaleX(0.9650);transform-origin:0 0;">-1868</div><div style="position:absolute;left:1246.05px;top:510.03px;font:normal 11.3px/11.3px 'Liberation Sans', sans-serif;color:#000;white-space:pre;transform:scaleX(0.9650);transform-origin:0 0;">-2371</div><div style="position:absolute;left:1299.05px;top:510.03px;font:normal 11.3px/11.3px 'Liberation Sans', sans-serif;color:#000;white-space:pre;transform:scaleX(0.9650);transform-origin:0 0;">-2526</div><div style="position:absolute;left:1140.05px;top:527.03px;font:normal 11.3px/11.3px 'Liberation Sans', sans-serif;color:#000;white-space:pre;transform:scaleX(0.9650);transform-origin:0 0;">-2865</div><div style="position:absolute;left:1193.05px;top:527.03px;font:normal 11.3px/11.3px 'Liberation Sans', sans-serif;color:#000;white-space:pre;transform:scaleX(0.9650);transform-origin:0 0;">-1624</div><div style="position:absolute;left:1246.05px;top:527.03px;font:normal 11.3px/11.3px 'Liberation Sans', sans-serif;color:#000;white-space:pre;transform:scaleX(0.9650);transform-origin:0 0;">-2889</div><div style="position:absolute;left:1299.05px;top:527.03px;font:normal 11.3px/11.3px 'Liberation Sans', sans-serif;color:#000;white-space:pre;transform:scaleX(0.9650);transform-origin:0 0;">-2187</div><div style="position:absolute;left:1140.05px;top:544.03px;font:normal 11.3px/11.3px 'Liberation Sans', sans-serif;color:#000;white-space:pre;transform:scaleX(0.9650);transform-origin:0 0;">-3369</div><div style="position:absolute;left:1193.05px;top:544.03px;font:normal 11.3px/11.3px 'Liberation Sans', sans-serif;color:#000;white-space:pre;transform:scaleX(0.9650);transform-origin:0 0;">-1268</div><div style="position:absolute;left:1246.05px;top:544.03px;font:normal 11.3px/11.3px 'Liberation Sans', sans-serif;color:#000;white-space:pre;transform:scaleX(0.9650);transform-origin:0 0;">-3381</div><div style="position:absolute;left:1299.05px;top:544.03px;font:normal 11.3px/11.3px 'Liberation Sans', sans-serif;color:#000;white-space:pre;transform:scaleX(0.9650);transform-origin:0 0;">-1707</div><div style="position:absolute;left:1140.05px;top:561.03px;font:normal 11.3px/11.3px 'Liberation Sans', sans-serif;color:#000;white-space:pre;transform:scaleX(0.9650);transform-origin:0 0;">-3606</div><div style="position:absolute;left:1196.09px;top:561.03px;font:normal 11.3px/11.3px 'Liberation Sans', sans-serif;color:#000;white-space:pre;transform:scaleX(0.9650);transform-origin:0 0;">-794</div><div style="position:absolute;left:1246.05px;top:561.03px;font:normal 11.3px/11.3px 'Liberation Sans', sans-serif;color:#000;white-space:pre;transform:scaleX(0.9650);transform-origin:0 0;">-3606</div><div style="position:absolute;left:1299.05px;top:561.03px;font:normal 11.3px/11.3px 'Liberation Sans', sans-serif;color:#000;white-space:pre;transform:scaleX(0.9650);transform-origin:0 0;">-1077</div><div style="position:absolute;left:1140.05px;top:578.03px;font:normal 11.3px/11.3px 'Liberation Sans', sans-serif;color:#000;white-space:pre;transform:scaleX(0.9650);transform-origin:0 0;">-3606</div><div style="position:absolute;left:1203.97px;top:578.03px;font:normal 11.3px/11.3px 'Liberation Sans', sans-serif;color:#000;white-space:pre;transform:scaleX(0.9650);transform-origin:0 0;">0</div><div style="position:absolute;left:1246.05px;top:578.03px;font:normal 11.3px/11.3px 'Liberation Sans', sans-serif;color:#000;white-space:pre;transform:scaleX(0.9650);transform-origin:0 0;">-3606</div><div style="position:absolute;left:1309.97px;top:578.03px;font:normal 11.3px/11.3px 'Liberation Sans', sans-serif;color:#000;white-space:pre;transform:scaleX(0.9650);transform-origin:0 0;">0</div><svg style="position:absolute;left:346px;top:285px" width="212" height="268" viewBox="346 285 212 268"><defs><pattern id="hatch" patternUnits="userSpaceOnUse" width="8.75" height="8.75" x="348" y="288"><path d="M0 0 L8.75 8.75 M8.75 0 L0 8.75 M-1 7.75 L1 9.75 M7.75 -1 L9.75 1 M-1 1 L1 -1 M7.75 9.75 L9.75 7.75" stroke="#a5a5a5" stroke-width="1.05"/></pattern></defs><rect x="346" y="285" width="212" height="268" fill="#fff"/><rect x="348" y="287" width="198" height="262" fill="url(#hatch)"/><rect x="347.8" y="287.3" width="198.4" height="262.2" fill="none" stroke="#111" stroke-width="1.7"/><circle cx="366.3" cy="305" r="4.5" fill="#000"/><path d="M366.3 296.5 L366.3 313.5" stroke="#c4283e" stroke-width="1.1" opacity="0.85"/><path d="M358 305 L374.5 305" stroke="#c4283e" stroke-width="1.1" opacity="0.85"/><circle cx="420.3" cy="305" r="4.5" fill="#000"/><path d="M420.3 296.5 L420.3 313.5" stroke="#c4283e" stroke-width="1.1" opacity="0.85"/><circle cx="474.3" cy="305" r="4.5" fill="#000"/><path d="M474.3 296.5 L474.3 313.5" stroke="#c4283e" stroke-width="1.1" opacity="0.85"/><circle cx="527.3" cy="305" r="4.5" fill="#000"/><path d="M527.3 296.5 L527.3 313.5" stroke="#c4283e" stroke-width="1.1" opacity="0.85"/><path d="M519 305 L535.5 305" stroke="#c4283e" stroke-width="1.1" opacity="0.85"/><circle cx="366.3" cy="532" r="4.5" fill="#000"/><path d="M366.3 523.5 L366.3 540.5" stroke="#c4283e" stroke-width="1.1" opacity="0.85"/><path d="M358 532 L374.5 532" stroke="#c4283e" stroke-width="1.1" opacity="0.85"/><circle cx="420.3" cy="532" r="4.5" fill="#000"/><path d="M420.3 523.5 L420.3 540.5" stroke="#c4283e" stroke-width="1.1" opacity="0.85"/><circle cx="474.3" cy="532" r="4.5" fill="#000"/><path d="M474.3 523.5 L474.3 540.5" stroke="#c4283e" stroke-width="1.1" opacity="0.85"/><circle cx="527.3" cy="532" r="4.5" fill="#000"/><path d="M527.3 523.5 L527.3 540.5" stroke="#c4283e" stroke-width="1.1" opacity="0.85"/><path d="M519 532 L535.5 532" stroke="#c4283e" stroke-width="1.1" opacity="0.85"/><circle cx="366.3" cy="381" r="4.5" fill="#000"/><path d="M358 381 L374.5 381" stroke="#c4283e" stroke-width="1.1" opacity="0.85"/><circle cx="527.3" cy="381" r="4.5" fill="#000"/><path d="M519 381 L535.5 381" stroke="#c4283e" stroke-width="1.1" opacity="0.85"/><circle cx="366.3" cy="456" r="4.5" fill="#000"/><path d="M358 456 L374.5 456" stroke="#c4283e" stroke-width="1.1" opacity="0.85"/><circle cx="527.3" cy="456" r="4.5" fill="#000"/><path d="M519 456 L535.5 456" stroke="#c4283e" stroke-width="1.1" opacity="0.85"/><rect x="366.3" y="305" width="161" height="227" fill="none" stroke="#b4b4b4" stroke-width="1" opacity="0.9"/><path d="M447.5 418.8 L540 418.8 M528.5 412.7 L540 418.8 L528.5 423.6" stroke="#3ad23a" stroke-width="1.2" fill="none"/><path d="M447.5 418.5 L447.5 329 M441.5 338 L447.5 329 L453.5 338" stroke="#3ad23a" stroke-width="1.2" fill="none"/><path d="M447.5 419 L447.5 441" stroke="#4040c0" stroke-width="1.4"/><path d="M447.5 418.8 L367 418.8 M376.5 413.5 L367 418.8 L376.5 424" stroke="#d8282e" stroke-width="1.2" fill="none"/><path d="M447.5 418.5 L447.5 340 M442.5 348.5 L447.5 340 L452.5 348.5" stroke="#d8282e" stroke-width="1.2" fill="none"/><path d="M441.5 303 L445.5 309.5 L449.5 303 M445.5 309.5 L445.5 316" stroke="#3ad23a" stroke-width="1.3" fill="none"/><path d="M442 320.5 Q445 317.5 448 319.5 Q449.5 322 446 326 L441.5 331.5 L449.5 331.5" stroke="#d8282e" stroke-width="1.3" fill="none"/><path d="M349.5 412.5 Q353 410 356 412.5 Q357 416 352.5 418 Q357.5 419.5 356.5 423.5 Q353.5 427 349.5 424.5 M352.5 418 L351.5 418" stroke="#d8282e" stroke-width="1.3" fill="none" opacity="0.85"/><path d="M549.5 411 L557 426.5 M557 411 L549.5 426.5" stroke="#3ad23a" stroke-width="1.3" fill="none" opacity="0.8"/></svg><svg style="position:absolute;left:557px;top:284px" width="460" height="320" viewBox="557 284 460 320"><rect x="558.5" y="285.5" width="456" height="315" fill="#fff" stroke="#888" stroke-width="1.2"/><text x="712.75" y="305.60" font-family="Liberation Sans" font-size="12.3" font-weight="bold" fill="#000" textLength="146.50" lengthAdjust="spacingAndGlyphs" >Controlling Biaxial Flexure</text><text x="756.50" y="322.40" font-family="Liberation Sans" font-size="12.3" font-weight="bold" fill="#000" textLength="59.00" lengthAdjust="spacingAndGlyphs" >Angle: 180</text><path d="M626.5 358 L626.5 540.8" stroke="#868686" stroke-width="1"/><path d="M622 358.3 L626.5 358.3" stroke="#868686" stroke-width="1"/><text x="590.13" y="361.90" font-family="Liberation Sans" font-size="9.8" font-weight="normal" fill="#000" textLength="25.87" lengthAdjust="spacingAndGlyphs" >-5000</text><path d="M622 384.3 L626.5 384.3" stroke="#868686" stroke-width="1"/><text x="590.13" y="387.90" font-family="Liberation Sans" font-size="9.8" font-weight="normal" fill="#000" textLength="25.87" lengthAdjust="spacingAndGlyphs" >-4000</text><path d="M622 410.3 L626.5 410.3" stroke="#868686" stroke-width="1"/><text x="590.13" y="413.90" font-family="Liberation Sans" font-size="9.8" font-weight="normal" fill="#000" textLength="25.87" lengthAdjust="spacingAndGlyphs" >-3000</text><path d="M622 436.3 L626.5 436.3" stroke="#868686" stroke-width="1"/><text x="590.13" y="439.90" font-family="Liberation Sans" font-size="9.8" font-weight="normal" fill="#000" textLength="25.87" lengthAdjust="spacingAndGlyphs" >-2000</text><path d="M622 462.3 L626.5 462.3" stroke="#868686" stroke-width="1"/><text x="590.13" y="465.90" font-family="Liberation Sans" font-size="9.8" font-weight="normal" fill="#000" textLength="25.87" lengthAdjust="spacingAndGlyphs" >-1000</text><path d="M622 488.3 L626.5 488.3" stroke="#868686" stroke-width="1"/><text x="610.71" y="491.90" font-family="Liberation Sans" font-size="9.8" font-weight="normal" fill="#000" textLength="5.29" lengthAdjust="spacingAndGlyphs" >0</text><path d="M622 514.3 L626.5 514.3" stroke="#868686" stroke-width="1"/><text x="595.42" y="517.90" font-family="Liberation Sans" font-size="9.8" font-weight="normal" fill="#000" textLength="20.58" lengthAdjust="spacingAndGlyphs" >1000</text><path d="M622 540.3 L626.5 540.3" stroke="#868686" stroke-width="1"/><text x="595.42" y="543.90" font-family="Liberation Sans" font-size="9.8" font-weight="normal" fill="#000" textLength="20.58" lengthAdjust="spacingAndGlyphs" >2000</text><path d="M626 488.5 L991 488.5" stroke="#868686" stroke-width="1"/><text x="623.80" y="477.00" font-family="Liberation Sans" font-size="9.8" font-weight="normal" fill="#000" textLength="5.40" lengthAdjust="spacingAndGlyphs" >0</text><path d="M678.5 484.8 L678.5 488.5" stroke="#868686" stroke-width="1"/><text x="670.50" y="477.00" font-family="Liberation Sans" font-size="9.8" font-weight="normal" fill="#000" textLength="16.00" lengthAdjust="spacingAndGlyphs" >500</text><path d="M730.5 484.8 L730.5 488.5" stroke="#868686" stroke-width="1"/><text x="720.00" y="477.00" font-family="Liberation Sans" font-size="9.8" font-weight="normal" fill="#000" textLength="21.00" lengthAdjust="spacingAndGlyphs" >1000</text><path d="M782.5 484.8 L782.5 488.5" stroke="#868686" stroke-width="1"/><text x="772.00" y="477.00" font-family="Liberation Sans" font-size="9.8" font-weight="normal" fill="#000" textLength="21.00" lengthAdjust="spacingAndGlyphs" >1500</text><path d="M834.5 484.8 L834.5 488.5" stroke="#868686" stroke-width="1"/><text x="824.00" y="477.00" font-family="Liberation Sans" font-size="9.8" font-weight="normal" fill="#000" textLength="21.00" lengthAdjust="spacingAndGlyphs" >2000</text><path d="M886.5 484.8 L886.5 488.5" stroke="#868686" stroke-width="1"/><text x="876.00" y="477.00" font-family="Liberation Sans" font-size="9.8" font-weight="normal" fill="#000" textLength="21.00" lengthAdjust="spacingAndGlyphs" >2500</text><path d="M938.5 484.8 L938.5 488.5" stroke="#868686" stroke-width="1"/><text x="928.00" y="477.00" font-family="Liberation Sans" font-size="9.8" font-weight="normal" fill="#000" textLength="21.00" lengthAdjust="spacingAndGlyphs" >3000</text><path d="M990.5 484.8 L990.5 488.5" stroke="#868686" stroke-width="1"/><text x="980.00" y="477.00" font-family="Liberation Sans" font-size="9.8" font-weight="normal" fill="#000" textLength="21.00" lengthAdjust="spacingAndGlyphs" >3500</text><path d="M626.5 380.1 L755.8 380.1 L831.3 386.8 L888.9 401.6 L929.7 417.2 L957.4 434.5 L945.4 447.6 L936.5 458.7 L909.2 471.7 L805.7 489.2 L626.5 514.6" stroke="#4472c4" stroke-width="2.1" fill="none" stroke-linejoin="round"/><circle cx="874" cy="426" r="2" fill="#ed7d31"/><text x="883.80" y="430.40" font-family="Liberation Sans" font-size="9.7" font-weight="normal" fill="#000" textLength="42.00" lengthAdjust="spacingAndGlyphs" >D/C=0.84</text><text x="934.70" y="519.60" font-family="Liberation Sans" font-size="9.7" font-weight="bold" fill="#000" textLength="75.20" lengthAdjust="spacingAndGlyphs" >Moment [kip-ft]</text><text x="546.80" y="449.00" font-family="Liberation Sans" font-size="9.7" font-weight="bold" fill="#000" textLength="75.00" lengthAdjust="spacingAndGlyphs" transform="rotate(-90 584.3 449)">Axial Force [kip]</text><path d="M664 563.7 L687.5 563.7" stroke="#4472c4" stroke-width="2.1"/><text x="689.70" y="567.00" font-family="Liberation Sans" font-size="9.8" font-weight="normal" fill="#000" textLength="220.00" lengthAdjust="spacingAndGlyphs" >Factored Resistance, Property: Column_Analysis</text><circle cx="675" cy="583.8" r="2" fill="#ed7d31"/><text x="692.30" y="587.60" font-family="Liberation Sans" font-size="9.8" font-weight="normal" fill="#000" textLength="155.70" lengthAdjust="spacingAndGlyphs" >a- Strength 1 Min P , Col: 1, Stat: 1</text></svg></body></html>
